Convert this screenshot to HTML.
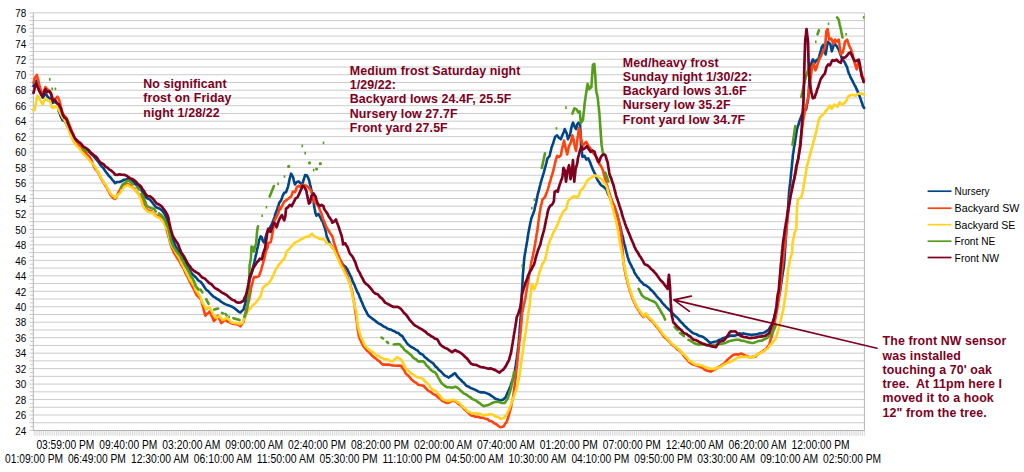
<!DOCTYPE html>
<html><head><meta charset="utf-8"><style>
html,body{margin:0;padding:0;background:#fff;}
body{width:1024px;height:472px;overflow:hidden;position:relative;}
svg{position:absolute;left:0;top:0;}
text{font-family:"Liberation Sans",Arial,sans-serif;}
.ax{font-size:12px;fill:#000;}
.ay{font-size:11.6px;fill:#000;}
.lg{font-size:11px;fill:#000;}
.an{font-size:12.4px;font-weight:bold;fill:#7e0021;letter-spacing:0.1px;}
</style></head><body>
<svg width="1024" height="472" viewBox="0 0 1024 472">

<path d="M29.2,430.48H864.4 M29.2,422.75H864.4 M29.2,415.02H864.4 M29.2,407.28H864.4 M29.2,399.55H864.4 M29.2,391.82H864.4 M29.2,384.08H864.4 M29.2,376.35H864.4 M29.2,368.62H864.4 M29.2,360.88H864.4 M29.2,353.15H864.4 M29.2,345.42H864.4 M29.2,337.69H864.4 M29.2,329.95H864.4 M29.2,322.22H864.4 M29.2,314.49H864.4 M29.2,306.75H864.4 M29.2,299.02H864.4 M29.2,291.29H864.4 M29.2,283.55H864.4 M29.2,275.82H864.4 M29.2,268.09H864.4 M29.2,260.36H864.4 M29.2,252.62H864.4 M29.2,244.89H864.4 M29.2,237.16H864.4 M29.2,229.42H864.4 M29.2,221.69H864.4 M29.2,213.96H864.4 M29.2,206.22H864.4 M29.2,198.49H864.4 M29.2,190.76H864.4 M29.2,183.03H864.4 M29.2,175.29H864.4 M29.2,167.56H864.4 M29.2,159.83H864.4 M29.2,152.09H864.4 M29.2,144.36H864.4 M29.2,136.63H864.4 M29.2,128.89H864.4 M29.2,121.16H864.4 M29.2,113.43H864.4 M29.2,105.70H864.4 M29.2,97.96H864.4 M29.2,90.23H864.4 M29.2,82.50H864.4 M29.2,74.76H864.4 M29.2,67.03H864.4 M29.2,59.30H864.4 M29.2,51.56H864.4 M29.2,43.83H864.4 M29.2,36.10H864.4 M29.2,28.37H864.4 M29.2,20.63H864.4 M29.2,12.90H864.4" stroke="#cbcbcb" stroke-width="1" fill="none"/>
<path d="M30.2,426.62H33.3 M30.2,418.88H33.3 M30.2,411.15H33.3 M30.2,403.42H33.3 M30.2,395.68H33.3 M30.2,387.95H33.3 M30.2,380.22H33.3 M30.2,372.48H33.3 M30.2,364.75H33.3 M30.2,357.02H33.3 M30.2,349.29H33.3 M30.2,341.55H33.3 M30.2,333.82H33.3 M30.2,326.09H33.3 M30.2,318.35H33.3 M30.2,310.62H33.3 M30.2,302.89H33.3 M30.2,295.15H33.3 M30.2,287.42H33.3 M30.2,279.69H33.3 M30.2,271.96H33.3 M30.2,264.22H33.3 M30.2,256.49H33.3 M30.2,248.76H33.3 M30.2,241.02H33.3 M30.2,233.29H33.3 M30.2,225.56H33.3 M30.2,217.82H33.3 M30.2,210.09H33.3 M30.2,202.36H33.3 M30.2,194.63H33.3 M30.2,186.89H33.3 M30.2,179.16H33.3 M30.2,171.43H33.3 M30.2,163.69H33.3 M30.2,155.96H33.3 M30.2,148.23H33.3 M30.2,140.49H33.3 M30.2,132.76H33.3 M30.2,125.03H33.3 M30.2,117.30H33.3 M30.2,109.56H33.3 M30.2,101.83H33.3 M30.2,94.10H33.3 M30.2,86.36H33.3 M30.2,78.63H33.3 M30.2,70.90H33.3 M30.2,63.16H33.3 M30.2,55.43H33.3 M30.2,47.70H33.3 M30.2,39.97H33.3 M30.2,32.23H33.3 M30.2,24.50H33.3 M30.2,16.77H33.3" stroke="#cbcbcb" stroke-width="1" fill="none"/>
<path d="M34.20,430.48V435.7 M36.05,430.48V435.7 M37.91,430.48V435.7 M39.76,430.48V435.7 M41.61,430.48V435.7 M43.47,430.48V435.7 M45.32,430.48V435.7 M47.17,430.48V435.7 M49.02,430.48V435.7 M50.88,430.48V435.7 M52.73,430.48V435.7 M54.58,430.48V435.7 M56.44,430.48V435.7 M58.29,430.48V435.7 M60.14,430.48V435.7 M62.00,430.48V435.7 M63.85,430.48V435.7 M65.70,430.48V435.7 M67.55,430.48V435.7 M69.41,430.48V435.7 M71.26,430.48V435.7 M73.11,430.48V435.7 M74.97,430.48V435.7 M76.82,430.48V435.7 M78.67,430.48V435.7 M80.52,430.48V435.7 M82.38,430.48V435.7 M84.23,430.48V435.7 M86.08,430.48V435.7 M87.94,430.48V435.7 M89.79,430.48V435.7 M91.64,430.48V435.7 M93.50,430.48V435.7 M95.35,430.48V435.7 M97.20,430.48V435.7 M99.05,430.48V435.7 M100.91,430.48V435.7 M102.76,430.48V435.7 M104.61,430.48V435.7 M106.47,430.48V435.7 M108.32,430.48V435.7 M110.17,430.48V435.7 M112.03,430.48V435.7 M113.88,430.48V435.7 M115.73,430.48V435.7 M117.58,430.48V435.7 M119.44,430.48V435.7 M121.29,430.48V435.7 M123.14,430.48V435.7 M125.00,430.48V435.7 M126.85,430.48V435.7 M128.70,430.48V435.7 M130.56,430.48V435.7 M132.41,430.48V435.7 M134.26,430.48V435.7 M136.11,430.48V435.7 M137.97,430.48V435.7 M139.82,430.48V435.7 M141.67,430.48V435.7 M143.53,430.48V435.7 M145.38,430.48V435.7 M147.23,430.48V435.7 M149.09,430.48V435.7 M150.94,430.48V435.7 M152.79,430.48V435.7 M154.64,430.48V435.7 M156.50,430.48V435.7 M158.35,430.48V435.7 M160.20,430.48V435.7 M162.06,430.48V435.7 M163.91,430.48V435.7 M165.76,430.48V435.7 M167.62,430.48V435.7 M169.47,430.48V435.7 M171.32,430.48V435.7 M173.18,430.48V435.7 M175.03,430.48V435.7 M176.88,430.48V435.7 M178.73,430.48V435.7 M180.59,430.48V435.7 M182.44,430.48V435.7 M184.29,430.48V435.7 M186.15,430.48V435.7 M188.00,430.48V435.7 M189.85,430.48V435.7 M191.71,430.48V435.7 M193.56,430.48V435.7 M195.41,430.48V435.7 M197.26,430.48V435.7 M199.12,430.48V435.7 M200.97,430.48V435.7 M202.82,430.48V435.7 M204.68,430.48V435.7 M206.53,430.48V435.7 M208.38,430.48V435.7 M210.24,430.48V435.7 M212.09,430.48V435.7 M213.94,430.48V435.7 M215.79,430.48V435.7 M217.65,430.48V435.7 M219.50,430.48V435.7 M221.35,430.48V435.7 M223.21,430.48V435.7 M225.06,430.48V435.7 M226.91,430.48V435.7 M228.77,430.48V435.7 M230.62,430.48V435.7 M232.47,430.48V435.7 M234.32,430.48V435.7 M236.18,430.48V435.7 M238.03,430.48V435.7 M239.88,430.48V435.7 M241.74,430.48V435.7 M243.59,430.48V435.7 M245.44,430.48V435.7 M247.30,430.48V435.7 M249.15,430.48V435.7 M251.00,430.48V435.7 M252.85,430.48V435.7 M254.71,430.48V435.7 M256.56,430.48V435.7 M258.41,430.48V435.7 M260.27,430.48V435.7 M262.12,430.48V435.7 M263.97,430.48V435.7 M265.83,430.48V435.7 M267.68,430.48V435.7 M269.53,430.48V435.7 M271.38,430.48V435.7 M273.24,430.48V435.7 M275.09,430.48V435.7 M276.94,430.48V435.7 M278.80,430.48V435.7 M280.65,430.48V435.7 M282.50,430.48V435.7 M284.36,430.48V435.7 M286.21,430.48V435.7 M288.06,430.48V435.7 M289.91,430.48V435.7 M291.77,430.48V435.7 M293.62,430.48V435.7 M295.47,430.48V435.7 M297.33,430.48V435.7 M299.18,430.48V435.7 M301.03,430.48V435.7 M302.89,430.48V435.7 M304.74,430.48V435.7 M306.59,430.48V435.7 M308.44,430.48V435.7 M310.30,430.48V435.7 M312.15,430.48V435.7 M314.00,430.48V435.7 M315.86,430.48V435.7 M317.71,430.48V435.7 M319.56,430.48V435.7 M321.42,430.48V435.7 M323.27,430.48V435.7 M325.12,430.48V435.7 M326.97,430.48V435.7 M328.83,430.48V435.7 M330.68,430.48V435.7 M332.53,430.48V435.7 M334.39,430.48V435.7 M336.24,430.48V435.7 M338.09,430.48V435.7 M339.95,430.48V435.7 M341.80,430.48V435.7 M343.65,430.48V435.7 M345.50,430.48V435.7 M347.36,430.48V435.7 M349.21,430.48V435.7 M351.06,430.48V435.7 M352.92,430.48V435.7 M354.77,430.48V435.7 M356.62,430.48V435.7 M358.48,430.48V435.7 M360.33,430.48V435.7 M362.18,430.48V435.7 M364.03,430.48V435.7 M365.89,430.48V435.7 M367.74,430.48V435.7 M369.59,430.48V435.7 M371.45,430.48V435.7 M373.30,430.48V435.7 M375.15,430.48V435.7 M377.01,430.48V435.7 M378.86,430.48V435.7 M380.71,430.48V435.7 M382.56,430.48V435.7 M384.42,430.48V435.7 M386.27,430.48V435.7 M388.12,430.48V435.7 M389.98,430.48V435.7 M391.83,430.48V435.7 M393.68,430.48V435.7 M395.54,430.48V435.7 M397.39,430.48V435.7 M399.24,430.48V435.7 M401.09,430.48V435.7 M402.95,430.48V435.7 M404.80,430.48V435.7 M406.65,430.48V435.7 M408.51,430.48V435.7 M410.36,430.48V435.7 M412.21,430.48V435.7 M414.07,430.48V435.7 M415.92,430.48V435.7 M417.77,430.48V435.7 M419.62,430.48V435.7 M421.48,430.48V435.7 M423.33,430.48V435.7 M425.18,430.48V435.7 M427.04,430.48V435.7 M428.89,430.48V435.7 M430.74,430.48V435.7 M432.60,430.48V435.7 M434.45,430.48V435.7 M436.30,430.48V435.7 M438.15,430.48V435.7 M440.01,430.48V435.7 M441.86,430.48V435.7 M443.71,430.48V435.7 M445.57,430.48V435.7 M447.42,430.48V435.7 M449.27,430.48V435.7 M451.13,430.48V435.7 M452.98,430.48V435.7 M454.83,430.48V435.7 M456.68,430.48V435.7 M458.54,430.48V435.7 M460.39,430.48V435.7 M462.24,430.48V435.7 M464.10,430.48V435.7 M465.95,430.48V435.7 M467.80,430.48V435.7 M469.66,430.48V435.7 M471.51,430.48V435.7 M473.36,430.48V435.7 M475.21,430.48V435.7 M477.07,430.48V435.7 M478.92,430.48V435.7 M480.77,430.48V435.7 M482.63,430.48V435.7 M484.48,430.48V435.7 M486.33,430.48V435.7 M488.19,430.48V435.7 M490.04,430.48V435.7 M491.89,430.48V435.7 M493.74,430.48V435.7 M495.60,430.48V435.7 M497.45,430.48V435.7 M499.30,430.48V435.7 M501.16,430.48V435.7 M503.01,430.48V435.7 M504.86,430.48V435.7 M506.72,430.48V435.7 M508.57,430.48V435.7 M510.42,430.48V435.7 M512.27,430.48V435.7 M514.13,430.48V435.7 M515.98,430.48V435.7 M517.83,430.48V435.7 M519.69,430.48V435.7 M521.54,430.48V435.7 M523.39,430.48V435.7 M525.25,430.48V435.7 M527.10,430.48V435.7 M528.95,430.48V435.7 M530.80,430.48V435.7 M532.66,430.48V435.7 M534.51,430.48V435.7 M536.36,430.48V435.7 M538.22,430.48V435.7 M540.07,430.48V435.7 M541.92,430.48V435.7 M543.78,430.48V435.7 M545.63,430.48V435.7 M547.48,430.48V435.7 M549.33,430.48V435.7 M551.19,430.48V435.7 M553.04,430.48V435.7 M554.89,430.48V435.7 M556.75,430.48V435.7 M558.60,430.48V435.7 M560.45,430.48V435.7 M562.31,430.48V435.7 M564.16,430.48V435.7 M566.01,430.48V435.7 M567.86,430.48V435.7 M569.72,430.48V435.7 M571.57,430.48V435.7 M573.42,430.48V435.7 M575.28,430.48V435.7 M577.13,430.48V435.7 M578.98,430.48V435.7 M580.83,430.48V435.7 M582.69,430.48V435.7 M584.54,430.48V435.7 M586.39,430.48V435.7 M588.25,430.48V435.7 M590.10,430.48V435.7 M591.95,430.48V435.7 M593.81,430.48V435.7 M595.66,430.48V435.7 M597.51,430.48V435.7 M599.36,430.48V435.7 M601.22,430.48V435.7 M603.07,430.48V435.7 M604.92,430.48V435.7 M606.78,430.48V435.7 M608.63,430.48V435.7 M610.48,430.48V435.7 M612.34,430.48V435.7 M614.19,430.48V435.7 M616.04,430.48V435.7 M617.89,430.48V435.7 M619.75,430.48V435.7 M621.60,430.48V435.7 M623.45,430.48V435.7 M625.31,430.48V435.7 M627.16,430.48V435.7 M629.01,430.48V435.7 M630.87,430.48V435.7 M632.72,430.48V435.7 M634.57,430.48V435.7 M636.42,430.48V435.7 M638.28,430.48V435.7 M640.13,430.48V435.7 M641.98,430.48V435.7 M643.84,430.48V435.7 M645.69,430.48V435.7 M647.54,430.48V435.7 M649.40,430.48V435.7 M651.25,430.48V435.7 M653.10,430.48V435.7 M654.95,430.48V435.7 M656.81,430.48V435.7 M658.66,430.48V435.7 M660.51,430.48V435.7 M662.37,430.48V435.7 M664.22,430.48V435.7 M666.07,430.48V435.7 M667.93,430.48V435.7 M669.78,430.48V435.7 M671.63,430.48V435.7 M673.48,430.48V435.7 M675.34,430.48V435.7 M677.19,430.48V435.7 M679.04,430.48V435.7 M680.90,430.48V435.7 M682.75,430.48V435.7 M684.60,430.48V435.7 M686.46,430.48V435.7 M688.31,430.48V435.7 M690.16,430.48V435.7 M692.01,430.48V435.7 M693.87,430.48V435.7 M695.72,430.48V435.7 M697.57,430.48V435.7 M699.43,430.48V435.7 M701.28,430.48V435.7 M703.13,430.48V435.7 M704.99,430.48V435.7 M706.84,430.48V435.7 M708.69,430.48V435.7 M710.54,430.48V435.7 M712.40,430.48V435.7 M714.25,430.48V435.7 M716.10,430.48V435.7 M717.96,430.48V435.7 M719.81,430.48V435.7 M721.66,430.48V435.7 M723.52,430.48V435.7 M725.37,430.48V435.7 M727.22,430.48V435.7 M729.07,430.48V435.7 M730.93,430.48V435.7 M732.78,430.48V435.7 M734.63,430.48V435.7 M736.49,430.48V435.7 M738.34,430.48V435.7 M740.19,430.48V435.7 M742.05,430.48V435.7 M743.90,430.48V435.7 M745.75,430.48V435.7 M747.60,430.48V435.7 M749.46,430.48V435.7 M751.31,430.48V435.7 M753.16,430.48V435.7 M755.02,430.48V435.7 M756.87,430.48V435.7 M758.72,430.48V435.7 M760.58,430.48V435.7 M762.43,430.48V435.7 M764.28,430.48V435.7 M766.13,430.48V435.7 M767.99,430.48V435.7 M769.84,430.48V435.7 M771.69,430.48V435.7 M773.55,430.48V435.7 M775.40,430.48V435.7 M777.25,430.48V435.7 M779.11,430.48V435.7 M780.96,430.48V435.7 M782.81,430.48V435.7 M784.66,430.48V435.7 M786.52,430.48V435.7 M788.37,430.48V435.7 M790.22,430.48V435.7 M792.08,430.48V435.7 M793.93,430.48V435.7 M795.78,430.48V435.7 M797.64,430.48V435.7 M799.49,430.48V435.7 M801.34,430.48V435.7 M803.19,430.48V435.7 M805.05,430.48V435.7 M806.90,430.48V435.7 M808.75,430.48V435.7 M810.61,430.48V435.7 M812.46,430.48V435.7 M814.31,430.48V435.7 M816.17,430.48V435.7 M818.02,430.48V435.7 M819.87,430.48V435.7 M821.72,430.48V435.7 M823.58,430.48V435.7 M825.43,430.48V435.7 M827.28,430.48V435.7 M829.14,430.48V435.7 M830.99,430.48V435.7 M832.84,430.48V435.7 M834.70,430.48V435.7 M836.55,430.48V435.7 M838.40,430.48V435.7 M840.25,430.48V435.7 M842.11,430.48V435.7 M843.96,430.48V435.7 M845.81,430.48V435.7 M847.67,430.48V435.7 M849.52,430.48V435.7 M851.37,430.48V435.7 M853.23,430.48V435.7 M855.08,430.48V435.7 M856.93,430.48V435.7 M858.78,430.48V435.7 M860.64,430.48V435.7 M862.49,430.48V435.7 M864.34,430.48V435.7" stroke="#d2d2d2" stroke-width="0.9" fill="none"/>
<path d="M33.3,12.9V430.48199999999997H864.4V12.9" stroke="#b3b3b3" stroke-width="1" fill="none"/>
<text class="ay" x="26.3" y="434.7" text-anchor="end" textLength="11.0" lengthAdjust="spacingAndGlyphs">24</text>
<text class="ay" x="26.3" y="419.2" text-anchor="end" textLength="11.0" lengthAdjust="spacingAndGlyphs">26</text>
<text class="ay" x="26.3" y="403.7" text-anchor="end" textLength="11.0" lengthAdjust="spacingAndGlyphs">28</text>
<text class="ay" x="26.3" y="388.3" text-anchor="end" textLength="11.0" lengthAdjust="spacingAndGlyphs">30</text>
<text class="ay" x="26.3" y="372.8" text-anchor="end" textLength="11.0" lengthAdjust="spacingAndGlyphs">32</text>
<text class="ay" x="26.3" y="357.4" text-anchor="end" textLength="11.0" lengthAdjust="spacingAndGlyphs">34</text>
<text class="ay" x="26.3" y="341.9" text-anchor="end" textLength="11.0" lengthAdjust="spacingAndGlyphs">36</text>
<text class="ay" x="26.3" y="326.4" text-anchor="end" textLength="11.0" lengthAdjust="spacingAndGlyphs">38</text>
<text class="ay" x="26.3" y="311.0" text-anchor="end" textLength="11.0" lengthAdjust="spacingAndGlyphs">40</text>
<text class="ay" x="26.3" y="295.5" text-anchor="end" textLength="11.0" lengthAdjust="spacingAndGlyphs">42</text>
<text class="ay" x="26.3" y="280.0" text-anchor="end" textLength="11.0" lengthAdjust="spacingAndGlyphs">44</text>
<text class="ay" x="26.3" y="264.6" text-anchor="end" textLength="11.0" lengthAdjust="spacingAndGlyphs">46</text>
<text class="ay" x="26.3" y="249.1" text-anchor="end" textLength="11.0" lengthAdjust="spacingAndGlyphs">48</text>
<text class="ay" x="26.3" y="233.6" text-anchor="end" textLength="11.0" lengthAdjust="spacingAndGlyphs">50</text>
<text class="ay" x="26.3" y="218.2" text-anchor="end" textLength="11.0" lengthAdjust="spacingAndGlyphs">52</text>
<text class="ay" x="26.3" y="202.7" text-anchor="end" textLength="11.0" lengthAdjust="spacingAndGlyphs">54</text>
<text class="ay" x="26.3" y="187.2" text-anchor="end" textLength="11.0" lengthAdjust="spacingAndGlyphs">56</text>
<text class="ay" x="26.3" y="171.8" text-anchor="end" textLength="11.0" lengthAdjust="spacingAndGlyphs">58</text>
<text class="ay" x="26.3" y="156.3" text-anchor="end" textLength="11.0" lengthAdjust="spacingAndGlyphs">60</text>
<text class="ay" x="26.3" y="140.8" text-anchor="end" textLength="11.0" lengthAdjust="spacingAndGlyphs">62</text>
<text class="ay" x="26.3" y="125.4" text-anchor="end" textLength="11.0" lengthAdjust="spacingAndGlyphs">64</text>
<text class="ay" x="26.3" y="109.9" text-anchor="end" textLength="11.0" lengthAdjust="spacingAndGlyphs">66</text>
<text class="ay" x="26.3" y="94.4" text-anchor="end" textLength="11.0" lengthAdjust="spacingAndGlyphs">68</text>
<text class="ay" x="26.3" y="79.0" text-anchor="end" textLength="11.0" lengthAdjust="spacingAndGlyphs">70</text>
<text class="ay" x="26.3" y="63.5" text-anchor="end" textLength="11.0" lengthAdjust="spacingAndGlyphs">72</text>
<text class="ay" x="26.3" y="48.0" text-anchor="end" textLength="11.0" lengthAdjust="spacingAndGlyphs">74</text>
<text class="ay" x="26.3" y="32.6" text-anchor="end" textLength="11.0" lengthAdjust="spacingAndGlyphs">76</text>
<text class="ay" x="26.3" y="17.1" text-anchor="end" textLength="11.0" lengthAdjust="spacingAndGlyphs">78</text>
<text class="ax" x="5.0" y="462.9" textLength="58" lengthAdjust="spacingAndGlyphs">01:09:00 PM</text>
<text class="ax" x="67.9" y="462.9" textLength="58" lengthAdjust="spacingAndGlyphs">06:49:00 PM</text>
<text class="ax" x="130.9" y="462.9" textLength="58" lengthAdjust="spacingAndGlyphs">12:30:00 AM</text>
<text class="ax" x="193.8" y="462.9" textLength="58" lengthAdjust="spacingAndGlyphs">06:10:00 AM</text>
<text class="ax" x="256.7" y="462.9" textLength="58" lengthAdjust="spacingAndGlyphs">11:50:00 AM</text>
<text class="ax" x="319.6" y="462.9" textLength="58" lengthAdjust="spacingAndGlyphs">05:30:00 PM</text>
<text class="ax" x="382.6" y="462.9" textLength="58" lengthAdjust="spacingAndGlyphs">11:10:00 PM</text>
<text class="ax" x="445.5" y="462.9" textLength="58" lengthAdjust="spacingAndGlyphs">04:50:00 AM</text>
<text class="ax" x="508.4" y="462.9" textLength="58" lengthAdjust="spacingAndGlyphs">10:30:00 AM</text>
<text class="ax" x="571.4" y="462.9" textLength="58" lengthAdjust="spacingAndGlyphs">04:10:00 PM</text>
<text class="ax" x="634.3" y="462.9" textLength="58" lengthAdjust="spacingAndGlyphs">09:50:00 PM</text>
<text class="ax" x="697.2" y="462.9" textLength="58" lengthAdjust="spacingAndGlyphs">03:30:00 AM</text>
<text class="ax" x="760.2" y="462.9" textLength="58" lengthAdjust="spacingAndGlyphs">09:10:00 AM</text>
<text class="ax" x="823.1" y="462.9" textLength="58" lengthAdjust="spacingAndGlyphs">02:50:00 PM</text>
<text class="ax" x="36.4" y="449.3" textLength="58" lengthAdjust="spacingAndGlyphs">03:59:00 PM</text>
<text class="ax" x="99.3" y="449.3" textLength="58" lengthAdjust="spacingAndGlyphs">09:40:00 PM</text>
<text class="ax" x="162.3" y="449.3" textLength="58" lengthAdjust="spacingAndGlyphs">03:20:00 AM</text>
<text class="ax" x="225.2" y="449.3" textLength="58" lengthAdjust="spacingAndGlyphs">09:00:00 AM</text>
<text class="ax" x="288.1" y="449.3" textLength="58" lengthAdjust="spacingAndGlyphs">02:40:00 PM</text>
<text class="ax" x="351.0" y="449.3" textLength="58" lengthAdjust="spacingAndGlyphs">08:20:00 PM</text>
<text class="ax" x="414.0" y="449.3" textLength="58" lengthAdjust="spacingAndGlyphs">02:00:00 AM</text>
<text class="ax" x="476.9" y="449.3" textLength="58" lengthAdjust="spacingAndGlyphs">07:40:00 AM</text>
<text class="ax" x="539.8" y="449.3" textLength="58" lengthAdjust="spacingAndGlyphs">01:20:00 PM</text>
<text class="ax" x="602.8" y="449.3" textLength="58" lengthAdjust="spacingAndGlyphs">07:00:00 PM</text>
<text class="ax" x="665.7" y="449.3" textLength="58" lengthAdjust="spacingAndGlyphs">12:40:00 AM</text>
<text class="ax" x="728.6" y="449.3" textLength="58" lengthAdjust="spacingAndGlyphs">06:20:00 AM</text>
<text class="ax" x="791.6" y="449.3" textLength="58" lengthAdjust="spacingAndGlyphs">12:00:00 PM</text>
<path d="M33.5,86.0 L34.5,83.8 L35.4,82.8 L36.4,80.7 L37.2,83.6 L38.0,86.0 L38.6,87.6 L39.3,89.7 L40.0,91.5 L40.6,93.4 L41.7,95.7 L42.7,97.7 L44.0,95.9 L45.4,93.4 L46.5,94.6 L47.5,96.6 L50.1,98.7 L51.2,100.3 L52.2,103.0 L54.9,101.9 L57.5,103.5 L57.8,105.8 L58.1,107.4 L58.5,109.7 L58.8,111.4 L59.8,113.4 L60.7,116.4 L61.7,118.3 L62.6,120.3 L64.5,120.9 L66.4,124.1 L67.3,126.2 L68.3,127.9 L69.3,129.8 L70.3,132.3 L71.5,135.0 L72.8,136.8 L74.0,138.8 L75.3,140.0 L76.9,140.7 L78.5,142.5 L80.1,143.6 L81.7,145.7 L83.3,147.0 L84.9,148.2 L86.5,150.0 L88.0,150.8 L89.6,152.2 L91.2,153.9 L92.8,155.2 L94.4,157.1 L96.0,158.9 L97.6,160.9 L98.8,162.3 L100.1,164.7 L102.4,167.2 L103.7,168.6 L104.9,170.5 L106.2,172.3 L107.4,173.7 L108.7,175.7 L110.0,176.9 L111.3,178.4 L112.5,180.1 L113.8,181.4 L115.1,183.1 L117.2,182.0 L119.3,182.0 L121.4,181.3 L123.6,179.9 L125.7,179.5 L127.8,178.9 L129.6,180.1 L131.3,180.6 L133.1,182.0 L134.8,183.8 L136.6,185.0 L138.3,185.9 L139.7,187.1 L141.0,189.1 L142.5,192.2 L143.6,193.9 L144.7,196.0 L146.8,198.1 L150.0,199.6 L151.9,202.0 L153.8,204.5 L155.7,206.8 L157.6,208.0 L159.5,208.4 L161.4,209.9 L163.4,212.2 L164.9,214.7 L166.2,217.3 L167.2,220.4 L168.1,223.6 L168.8,226.5 L169.5,229.0 L169.9,231.2 L170.4,233.5 L170.8,235.0 L171.6,237.0 L172.4,239.2 L174.0,242.4 L174.8,244.6 L175.6,246.1 L177.2,248.8 L178.8,252.0 L180.4,254.6 L181.4,256.4 L182.5,257.8 L183.6,259.4 L184.6,261.5 L185.6,263.4 L186.7,265.2 L187.8,267.5 L188.8,268.9 L190.2,271.4 L191.5,273.1 L194.1,275.8 L196.8,278.4 L198.4,280.6 L200.5,281.6 L202.6,284.3 L203.9,286.2 L205.2,288.2 L206.5,290.0 L208.3,291.2 L210.0,293.1 L211.8,295.0 L213.6,296.7 L215.3,297.6 L217.1,299.0 L218.9,299.8 L220.6,301.4 L222.4,302.5 L224.2,303.6 L225.9,304.4 L227.7,305.1 L229.5,305.7 L231.2,306.4 L233.0,307.2 L235.1,308.8 L237.2,310.4 L238.8,311.8 L240.4,312.5 L242.0,310.9 L243.6,309.3 L244.2,307.1 L244.8,305.0 L245.5,302.4 L246.1,300.3 L246.7,298.7 L247.0,296.8 L247.3,295.0 L247.6,292.5 L247.9,290.1 L248.2,287.8 L248.5,286.0 L248.9,283.9 L249.2,282.3 L249.6,279.7 L250.2,277.9 L250.9,275.5 L251.5,273.3 L252.0,271.8 L252.4,269.2 L252.9,267.6 L253.4,265.7 L253.9,264.3 L254.4,261.9 L254.8,259.9 L255.3,258.0 L255.7,255.7 L256.2,254.0 L256.6,252.4 L257.1,249.4 L257.5,247.9 L257.9,246.3 L258.3,244.4 L258.7,242.5 L259.1,240.2 L259.9,238.6 L260.6,236.4 L261.7,237.2 L262.3,239.4 L262.9,241.0 L264.0,242.5 L264.6,240.6 L265.2,238.7 L265.9,236.1 L266.7,233.4 L268.2,230.3 L269.7,228.0 L271.3,225.0 L272.4,222.7 L273.6,219.6 L274.7,216.6 L275.5,213.5 L276.4,211.3 L277.3,209.3 L277.9,206.7 L278.6,205.4 L279.2,202.9 L281.1,200.4 L281.8,198.5 L282.4,196.5 L283.4,194.3 L284.3,192.7 L286.0,192.2 L286.9,189.7 L287.9,187.1 L288.4,184.9 L288.9,182.5 L289.3,180.3 L289.8,178.2 L290.5,176.0 L291.1,173.7 L293.0,176.9 L293.5,178.9 L293.9,180.8 L294.4,182.6 L294.9,184.5 L296.8,182.0 L298.7,181.4 L300.6,183.3 L302.5,184.5 L303.1,181.5 L303.8,179.5 L304.5,177.0 L305.1,175.0 L307.0,175.6 L308.3,178.2 L308.9,179.7 L309.5,182.0 L310.1,184.6 L310.8,187.1 L311.2,189.6 L311.7,191.6 L312.1,193.4 L312.5,195.9 L313.0,198.0 L313.4,199.8 L313.7,201.7 L313.9,204.4 L314.2,206.2 L314.6,208.5 L314.9,209.9 L315.3,212.5 L316.5,215.7 L318.4,213.8 L319.7,216.3 L320.6,217.7 L321.6,220.2 L322.6,221.6 L323.5,224.0 L324.1,226.2 L324.8,227.8 L325.3,229.8 L325.9,231.9 L326.4,234.8 L326.9,236.9 L327.7,238.5 L328.4,240.0 L329.2,241.9 L330.0,244.0 L331.6,246.3 L333.2,248.6 L334.8,250.3 L336.4,252.8 L337.4,254.7 L338.5,257.3 L339.5,259.2 L340.6,260.9 L341.6,262.5 L342.7,264.5 L344.1,265.9 L345.5,266.8 L346.9,268.7 L348.0,270.7 L349.0,272.9 L350.1,275.1 L350.9,276.6 L351.7,278.4 L352.5,281.1 L353.3,282.5 L354.1,284.4 L354.9,285.9 L355.7,288.2 L356.5,289.9 L357.3,292.1 L358.1,293.1 L358.9,294.9 L359.7,297.3 L360.5,298.7 L361.2,301.1 L362.0,302.3 L362.8,304.5 L363.7,306.6 L364.6,308.4 L365.4,310.1 L366.3,311.6 L367.2,313.8 L368.6,315.7 L370.1,316.9 L371.5,318.0 L373.3,319.4 L375.0,320.5 L376.8,322.2 L378.6,323.4 L380.3,324.2 L382.1,325.4 L383.9,326.6 L385.6,327.3 L387.4,328.6 L389.2,329.4 L390.9,329.5 L392.7,330.7 L394.5,331.2 L396.2,332.6 L398.0,332.8 L400.1,334.8 L402.2,336.0 L403.2,337.4 L404.3,339.6 L405.3,340.6 L406.4,342.4 L407.8,344.3 L409.3,345.5 L410.7,346.6 L412.5,347.6 L414.2,348.5 L416.0,349.8 L417.8,350.7 L419.5,353.0 L421.3,354.0 L423.1,354.9 L424.8,357.2 L426.6,358.3 L428.4,360.2 L430.1,361.2 L431.9,362.5 L433.7,363.9 L435.4,366.4 L437.2,367.8 L438.6,369.7 L440.0,370.8 L441.4,372.0 L442.9,373.7 L444.5,375.4 L446.6,376.4 L448.8,377.6 L450.4,376.3 L451.9,375.4 L453.5,374.0 L455.1,373.3 L456.7,375.6 L458.3,377.6 L459.7,378.9 L461.1,380.1 L462.5,381.8 L463.9,382.8 L465.4,384.8 L466.8,386.0 L468.9,386.8 L471.0,388.1 L472.8,388.8 L474.5,389.4 L476.3,390.3 L478.1,391.4 L479.8,392.1 L481.6,392.4 L484.2,392.4 L486.9,393.4 L489.0,394.2 L491.1,395.6 L493.2,397.0 L495.4,398.7 L498.6,399.8 L500.7,400.3 L502.8,399.8 L504.4,398.5 L506.0,396.6 L506.8,394.6 L507.6,392.6 L508.4,391.2 L509.2,389.2 L510.0,387.4 L510.8,385.4 L511.5,382.7 L512.3,380.7 L513.0,379.0 L513.7,376.7 L514.4,374.4 L514.7,372.3 L515.0,370.7 L515.3,367.7 L515.7,366.1 L516.0,363.3 L516.3,361.3 L516.6,359.5 L516.9,357.8 L517.1,355.0 L517.4,353.4 L517.7,351.2 L517.9,349.3 L518.2,346.7 L518.4,344.5 L518.7,342.6 L518.9,340.3 L519.0,338.9 L519.2,336.6 L519.4,334.9 L519.5,332.8 L519.7,329.9 L519.8,328.3 L520.0,325.7 L520.2,323.6 L520.3,321.6 L520.5,320.0 L520.6,318.5 L520.7,316.5 L520.8,314.6 L520.9,312.1 L521.0,310.5 L521.1,308.8 L521.2,306.4 L521.3,304.7 L521.4,302.4 L521.5,300.3 L521.6,298.6 L521.7,297.4 L521.8,295.0 L521.9,293.0 L522.0,291.3 L522.1,288.8 L522.2,286.5 L522.3,285.0 L522.5,283.0 L522.6,280.0 L522.7,278.7 L522.8,276.0 L522.9,274.4 L523.1,271.9 L523.3,270.6 L523.5,267.5 L523.6,265.6 L523.8,264.3 L524.0,261.6 L524.2,259.1 L524.4,257.4 L524.8,254.9 L525.1,252.9 L525.5,251.3 L525.8,248.5 L526.1,247.3 L526.5,244.7 L526.9,242.4 L527.2,241.0 L527.5,238.8 L527.9,236.0 L528.2,233.8 L528.6,232.0 L529.0,230.1 L529.3,227.8 L529.7,226.6 L530.1,224.0 L530.5,222.1 L530.8,221.3 L531.2,218.9 L532.0,216.6 L532.8,214.8 L533.6,212.5 L534.4,210.4 L534.8,208.1 L535.3,205.7 L535.7,204.5 L536.2,202.5 L536.6,200.3 L537.1,197.3 L537.5,195.6 L538.0,193.2 L538.6,191.5 L539.1,189.7 L539.6,187.1 L540.2,185.1 L540.7,182.8 L541.3,180.9 L542.0,178.3 L542.6,176.5 L543.3,174.2 L543.9,172.3 L544.5,169.9 L545.0,167.6 L545.6,165.9 L546.1,163.8 L546.5,162.6 L547.0,160.1 L547.5,158.3 L549.4,156.4 L549.9,154.5 L550.4,152.4 L550.9,150.7 L551.4,148.1 L552.3,145.4 L553.3,143.0 L553.9,140.7 L554.6,138.6 L555.2,136.7 L557.1,135.4 L559.0,138.0 L560.9,139.2 L561.8,136.5 L562.8,134.2 L563.8,132.0 L564.7,129.1 L565.7,131.4 L566.6,132.9 L567.0,134.8 L567.5,136.9 L567.9,139.2 L568.8,137.3 L569.8,135.4 L570.3,133.3 L570.8,131.1 L571.2,128.4 L571.7,126.5 L572.4,124.1 L573.0,122.7 L573.8,124.3 L574.5,126.5 L576.1,129.1 L576.8,126.1 L577.4,124.0 L578.7,122.7 L580.0,124.0 L580.1,126.0 L580.2,127.3 L580.3,129.2 L580.4,131.7 L580.5,133.3 L580.6,135.4 L580.7,137.8 L580.8,139.6 L580.9,142.1 L581.0,143.5 L581.1,146.0 L581.2,148.1 L581.5,150.6 L581.9,152.1 L582.2,155.3 L582.5,157.0 L584.4,155.8 L585.3,157.3 L586.3,159.6 L588.2,158.3 L589.2,160.5 L590.1,162.1 L591.0,165.2 L592.0,167.2 L592.9,169.6 L593.7,171.2 L594.5,172.9 L595.3,174.5 L596.1,176.8 L596.9,178.6 L597.9,180.8 L599.0,181.9 L600.0,183.9 L601.6,185.6 L603.2,186.5 L606.0,189.0 L606.8,190.5 L607.7,193.3 L608.5,194.8 L609.6,196.4 L610.6,198.9 L611.7,201.2 L612.7,203.7 L613.8,205.7 L614.8,207.5 L615.5,210.1 L616.2,212.1 L616.9,213.9 L617.5,216.3 L618.0,218.4 L618.5,219.9 L619.1,222.4 L619.6,224.4 L620.2,226.2 L620.7,228.9 L621.2,230.8 L621.7,233.1 L622.2,234.8 L622.8,236.7 L623.3,239.3 L623.8,241.9 L624.3,243.9 L624.9,245.7 L625.4,247.8 L625.9,250.0 L626.5,252.4 L627.0,254.1 L627.5,256.3 L628.3,258.7 L629.1,261.4 L630.1,263.3 L631.2,265.3 L632.2,267.7 L633.3,269.3 L634.3,272.1 L635.4,274.1 L636.5,275.6 L637.5,277.3 L638.6,278.3 L639.7,280.4 L641.1,281.7 L642.5,282.9 L643.9,284.7 L645.7,285.3 L647.4,286.5 L649.2,287.8 L650.6,289.6 L652.0,290.6 L653.4,292.1 L654.8,293.8 L656.3,295.8 L657.7,297.4 L659.0,298.7 L660.4,300.0 L661.7,302.2 L663.0,303.7 L664.8,305.5 L666.5,307.4 L668.3,309.0 L670.1,310.7 L671.8,312.7 L673.6,314.3 L675.4,316.3 L677.1,317.5 L678.9,319.6 L680.2,321.1 L681.5,322.5 L682.9,323.7 L684.2,325.5 L686.0,327.0 L687.7,328.8 L689.5,330.3 L691.3,331.9 L693.0,333.1 L694.8,333.8 L696.6,334.3 L698.3,335.4 L700.1,336.0 L701.9,336.4 L703.6,337.3 L705.4,338.7 L707.2,340.1 L708.9,342.0 L710.7,343.0 L712.9,342.1 L715.0,341.9 L717.1,341.1 L719.2,339.8 L721.0,339.5 L722.7,338.2 L724.5,337.7 L726.3,337.2 L728.0,336.7 L729.8,335.6 L732.5,335.5 L735.1,335.6 L737.2,334.7 L739.3,333.4 L741.5,333.7 L743.6,333.4 L746.2,334.1 L748.9,334.5 L751.5,334.9 L754.2,334.5 L756.8,334.4 L759.4,333.4 L762.0,333.4 L764.7,332.4 L766.9,330.9 L769.0,329.2 L770.1,327.1 L771.1,325.4 L772.2,323.9 L772.9,321.5 L773.6,319.7 L774.3,317.5 L774.8,315.7 L775.3,312.8 L775.9,311.4 L776.4,309.1 L776.8,307.1 L777.2,304.5 L777.7,302.5 L778.1,299.9 L778.5,298.0 L778.9,296.3 L779.3,293.5 L779.7,292.5 L780.1,290.3 L780.5,288.0 L780.8,286.0 L781.2,283.4 L781.5,282.0 L781.8,279.8 L782.2,276.8 L782.5,275.0 L782.8,273.1 L783.1,271.1 L783.5,268.7 L783.8,266.6 L784.1,264.2 L784.2,262.2 L784.4,260.7 L784.5,258.8 L784.6,256.1 L784.8,254.6 L784.9,252.2 L785.0,249.9 L785.2,248.1 L785.3,245.9 L785.4,244.8 L785.5,242.8 L785.7,239.9 L785.8,238.5 L785.9,236.3 L786.1,234.0 L786.2,232.4 L786.4,230.2 L786.5,228.3 L786.7,226.9 L786.8,224.1 L787.0,222.4 L787.1,220.8 L787.3,218.4 L787.4,217.1 L787.6,215.2 L787.7,213.5 L787.9,211.2 L788.0,208.9 L788.1,206.9 L788.3,205.2 L788.4,202.9 L788.5,201.2 L788.6,198.8 L788.8,197.2 L788.9,195.3 L789.0,193.0 L789.2,191.4 L789.4,189.6 L789.6,187.2 L789.8,185.2 L790.1,183.7 L790.3,181.6 L790.5,179.5 L790.7,177.3 L790.9,175.5 L791.1,173.3 L791.3,171.2 L791.5,170.1 L791.7,167.4 L791.9,166.1 L792.0,164.0 L792.2,162.5 L792.4,160.4 L792.6,158.7 L792.8,155.8 L793.0,154.3 L793.4,152.2 L793.7,150.1 L794.0,147.7 L794.4,145.8 L794.8,143.6 L795.1,141.6 L795.4,139.6 L795.7,137.1 L796.0,135.6 L796.3,133.6 L796.6,131.5 L796.9,129.7 L797.5,127.5 L798.1,125.8 L798.8,123.5 L799.4,121.2 L800.3,118.9 L801.1,116.8 L802.0,114.4 L803.2,112.6 L804.5,111.0 L806.2,109.3 L806.6,106.8 L807.0,104.5 L807.5,102.7 L807.9,100.8 L808.1,98.8 L808.3,97.0 L808.5,94.9 L808.7,92.4 L808.8,90.3 L808.9,88.7 L809.0,86.0 L809.2,84.3 L809.3,81.7 L809.4,79.9 L809.5,78.1 L809.6,75.4 L809.9,73.2 L810.2,71.1 L810.5,69.6 L810.7,67.6 L811.0,65.4 L811.3,63.6 L812.1,60.9 L813.0,59.3 L813.9,60.9 L814.7,62.7 L816.4,60.2 L818.6,58.7 L819.3,56.3 L819.9,53.9 L820.6,51.7 L821.2,49.7 L821.7,47.0 L823.4,44.9 L823.8,46.9 L824.3,49.0 L824.7,51.0 L825.2,52.8 L825.6,54.4 L826.0,52.3 L826.3,50.4 L826.7,48.2 L827.0,46.1 L827.4,44.0 L827.7,41.7 L830.2,43.9 L830.8,46.3 L831.3,49.0 L831.9,51.3 L832.4,49.3 L833.0,47.5 L833.5,45.2 L834.0,42.8 L835.3,44.8 L836.6,46.0 L837.9,48.4 L839.1,50.2 L839.8,52.7 L840.5,54.6 L841.2,56.4 L841.9,58.7 L843.5,60.5 L845.0,62.9 L846.0,65.2 L847.1,67.1 L847.7,69.6 L848.2,71.4 L848.8,73.5 L849.7,74.9 L850.5,77.4 L851.4,78.8 L852.5,80.9 L853.5,83.0 L854.6,85.1 L855.6,86.7 L856.7,89.4 L857.7,91.5 L858.5,93.9 L859.3,95.6 L860.1,97.6 L860.9,99.9 L861.6,102.2 L862.3,103.6 L863.0,106.3 L864.2,108.0" stroke="#004586" stroke-width="2.6" fill="none" stroke-linejoin="round" stroke-linecap="round"/>
<path d="M33.5,82.8 L34.1,80.9 L34.8,78.0 L36.9,74.9 L37.4,77.6 L38.0,78.9 L38.5,81.2 L39.0,83.9 L39.7,86.5 L40.4,88.7 L41.0,90.8 L41.7,92.9 L43.2,94.0 L43.9,91.5 L44.7,89.5 L45.4,87.1 L47.0,89.2 L49.6,90.8 L51.2,93.4 L51.9,95.7 L52.6,97.8 L53.3,99.8 L55.4,98.7 L57.5,96.6 L59.1,99.8 L59.6,101.5 L60.2,103.9 L60.7,106.1 L61.2,107.9 L61.8,110.1 L62.3,112.3 L62.8,113.6 L64.4,115.9 L66.0,117.3 L67.0,119.4 L68.0,121.5 L69.0,123.9 L70.0,126.5 L70.7,128.1 L71.3,129.7 L72.0,132.0 L73.0,134.0 L74.0,137.0 L75.2,139.2 L76.5,141.5 L77.8,143.1 L79.1,145.0 L80.4,147.0 L82.1,149.3 L83.8,150.7 L85.5,152.5 L86.8,154.1 L88.0,155.2 L89.3,156.5 L90.6,158.5 L91.4,160.3 L92.2,162.1 L93.1,164.5 L93.9,166.5 L95.2,169.0 L96.6,170.6 L97.9,172.0 L99.2,174.3 L100.3,176.8 L101.3,178.8 L102.4,180.6 L103.5,182.5 L104.5,184.4 L105.5,185.9 L106.6,187.3 L107.7,189.7 L108.8,191.2 L109.9,194.0 L111.0,195.5 L113.0,197.8 L115.1,199.0 L117.0,196.0 L118.1,193.2 L119.2,191.2 L120.3,189.4 L121.5,187.0 L123.5,184.8 L126.7,183.8 L129.3,184.8 L132.0,186.9 L134.6,189.1 L135.9,190.9 L137.2,192.2 L138.6,193.8 L139.9,195.4 L140.9,197.0 L142.0,198.6 L142.8,201.2 L143.6,203.9 L144.4,206.5 L145.2,208.1 L147.8,210.3 L150.0,210.9 L152.0,211.5 L153.2,213.0 L154.5,214.5 L156.3,215.5 L159.5,216.6 L162.1,218.5 L163.3,221.4 L164.6,223.6 L165.6,225.9 L166.5,228.5 L167.1,231.1 L167.6,233.3 L168.2,235.0 L168.7,237.1 L169.3,239.3 L169.8,241.4 L170.5,244.0 L171.2,245.8 L171.9,247.7 L172.6,249.5 L173.3,250.9 L174.0,253.0 L175.1,254.4 L176.1,256.2 L177.1,258.0 L178.2,259.4 L179.3,260.9 L180.4,263.1 L181.4,265.4 L182.5,266.8 L183.6,268.6 L184.6,271.0 L185.6,273.6 L186.7,275.3 L187.8,277.2 L188.8,279.5 L189.9,282.1 L191.0,283.7 L191.8,285.6 L192.7,287.1 L193.6,288.8 L194.4,290.5 L195.3,292.4 L196.1,294.0 L197.0,295.6 L198.4,296.8 L199.8,298.1 L201.2,299.8 L201.7,301.8 L202.2,304.3 L202.8,305.9 L203.3,307.3 L203.8,310.1 L204.3,312.0 L204.9,314.2 L205.4,315.7 L206.8,313.9 L208.3,313.1 L209.7,311.4 L210.5,312.8 L211.4,315.4 L212.2,316.9 L213.1,318.8 L213.9,321.0 L215.3,319.6 L216.7,317.0 L218.1,315.7 L218.9,317.6 L219.7,319.8 L220.5,321.0 L221.3,323.1 L223.4,321.2 L225.6,319.9 L227.3,321.4 L229.1,321.9 L230.8,323.1 L233.4,323.9 L236.1,324.2 L238.2,324.7 L240.4,326.3 L242.0,324.0 L243.6,322.0 L244.0,319.5 L244.4,318.0 L244.9,315.2 L245.3,314.0 L245.7,311.4 L246.3,308.8 L247.0,307.4 L247.6,304.5 L248.3,302.7 L248.9,300.8 L249.3,299.0 L249.6,296.2 L250.0,294.1 L250.4,292.6 L250.8,290.1 L251.1,287.6 L251.5,286.0 L252.2,284.3 L252.8,281.2 L253.4,278.8 L254.1,277.1 L256.6,277.1 L259.2,275.8 L259.8,273.7 L260.4,272.1 L261.1,270.4 L261.7,268.2 L262.3,265.5 L262.9,263.6 L263.6,261.0 L264.2,259.3 L264.7,257.0 L265.1,255.1 L265.6,252.9 L266.1,250.4 L267.5,247.9 L267.9,246.0 L268.2,243.3 L269.4,242.5 L270.5,242.5 L271.1,240.5 L271.6,238.0 L272.0,236.1 L272.4,233.4 L272.8,231.3 L273.2,228.8 L273.5,226.5 L273.9,224.2 L274.3,222.0 L274.7,220.4 L275.8,218.1 L277.0,215.8 L278.1,213.5 L278.9,211.0 L279.2,209.2 L279.6,207.0 L280.4,209.3 L281.4,207.1 L282.4,205.4 L283.4,203.1 L284.3,201.6 L286.0,200.4 L288.5,198.5 L291.1,196.6 L292.1,194.0 L293.0,191.5 L294.9,192.2 L295.9,190.1 L296.8,187.1 L298.7,185.8 L300.6,187.1 L302.5,184.5 L304.4,185.2 L306.4,185.8 L308.3,187.1 L310.2,189.6 L311.1,191.1 L312.1,193.4 L312.8,196.0 L313.4,198.5 L314.0,200.3 L314.6,202.4 L316.5,203.6 L318.4,206.2 L319.4,208.8 L320.4,211.3 L321.4,213.4 L322.3,216.3 L323.2,219.4 L324.2,221.4 L325.1,223.7 L326.1,226.5 L327.4,228.8 L328.7,230.7 L330.0,233.0 L332.1,236.0 L332.8,237.9 L333.5,240.9 L334.2,243.3 L334.8,245.0 L335.5,247.1 L336.1,249.1 L336.8,251.4 L337.4,253.9 L338.5,255.6 L339.5,258.3 L340.6,260.3 L341.4,262.2 L342.2,264.5 L343.0,266.3 L343.8,267.7 L344.6,270.1 L345.4,271.1 L346.1,273.2 L346.9,275.1 L347.7,277.0 L348.5,279.5 L349.3,281.6 L350.1,283.6 L350.6,286.0 L351.1,288.0 L351.7,289.6 L352.2,292.0 L352.6,294.0 L352.9,296.3 L353.3,297.8 L353.7,300.5 L354.0,302.1 L354.4,304.6 L354.7,306.4 L355.0,309.0 L355.3,311.4 L355.6,313.0 L355.9,314.9 L356.2,317.1 L356.5,319.6 L356.8,321.4 L357.1,323.4 L357.4,325.8 L357.6,327.8 L357.9,329.6 L358.2,332.1 L358.5,333.6 L358.8,336.0 L359.6,338.4 L360.5,340.3 L361.3,342.0 L362.2,343.6 L363.0,345.6 L364.4,347.3 L365.8,349.2 L367.2,350.8 L369.0,352.1 L370.7,354.2 L372.5,356.1 L374.3,357.6 L376.0,358.6 L377.8,360.4 L379.6,361.4 L381.3,363.5 L383.1,364.6 L385.2,364.5 L387.4,364.6 L389.5,364.6 L391.6,365.4 L393.7,365.5 L395.8,365.7 L398.5,365.5 L401.1,365.7 L402.2,367.9 L403.2,369.0 L404.3,370.3 L405.3,372.7 L406.4,374.2 L408.0,375.3 L409.6,377.1 L411.2,379.3 L412.8,380.5 L414.6,382.1 L416.3,382.8 L418.1,384.7 L420.8,385.2 L423.4,385.8 L425.2,387.5 L426.9,389.3 L428.7,391.1 L430.5,391.8 L432.2,393.3 L434.0,394.3 L436.1,395.4 L438.2,397.5 L440.4,399.0 L442.5,401.0 L444.6,401.9 L446.7,403.0 L449.3,402.4 L451.9,400.9 L454.0,400.9 L456.2,401.9 L458.3,403.8 L460.4,405.1 L462.2,406.5 L463.9,408.7 L465.7,410.4 L467.1,411.7 L468.6,413.2 L470.0,414.6 L471.8,415.6 L473.5,415.9 L475.3,416.7 L478.0,416.8 L480.6,417.8 L483.2,417.9 L485.8,418.9 L487.6,419.1 L489.3,420.7 L491.1,421.0 L492.9,422.2 L494.6,423.6 L496.4,424.2 L498.5,426.0 L500.7,427.3 L503.9,426.3 L504.9,424.0 L506.0,422.9 L507.0,421.0 L507.6,419.2 L508.3,417.0 L508.9,414.6 L509.6,412.4 L510.2,410.4 L510.7,408.2 L511.1,406.5 L511.6,403.8 L512.0,402.0 L512.5,399.8 L512.9,398.2 L513.4,395.6 L513.6,394.0 L513.9,392.3 L514.1,390.3 L514.3,387.8 L514.6,385.9 L514.8,384.3 L515.0,382.1 L515.3,380.4 L515.5,378.6 L515.7,376.9 L515.9,375.2 L516.1,373.0 L516.3,371.3 L516.5,368.6 L516.8,367.0 L517.0,365.8 L517.2,362.9 L517.4,361.3 L517.6,359.5 L517.8,356.9 L518.0,354.8 L518.2,353.6 L518.5,351.6 L518.7,349.1 L518.9,346.4 L519.1,344.5 L519.3,342.6 L519.6,340.2 L519.8,338.5 L520.1,336.4 L520.3,334.1 L520.6,332.0 L520.8,330.1 L520.9,327.7 L521.1,326.2 L521.2,324.7 L521.4,322.5 L521.6,319.9 L521.7,318.4 L521.9,316.6 L522.0,314.2 L522.2,312.5 L522.7,310.8 L523.1,308.2 L523.6,306.4 L524.0,303.9 L524.5,302.5 L524.9,300.1 L525.4,297.7 L525.7,295.9 L526.0,293.5 L526.4,291.9 L526.7,289.5 L527.0,288.3 L527.3,286.7 L527.6,284.0 L528.0,282.4 L528.3,280.5 L528.6,278.6 L528.9,276.6 L529.2,275.1 L529.5,273.4 L529.8,271.3 L530.2,269.2 L530.5,267.8 L530.8,265.3 L531.1,263.8 L531.4,261.7 L531.9,259.8 L532.4,257.7 L532.9,255.7 L533.4,252.9 L533.9,251.1 L534.2,249.1 L534.6,246.8 L534.9,244.9 L535.3,243.1 L535.6,240.5 L536.0,238.5 L536.4,235.7 L536.7,234.1 L537.1,232.0 L537.4,230.3 L537.6,228.5 L537.9,226.3 L538.1,224.5 L538.4,221.7 L538.7,220.8 L538.9,218.6 L539.2,216.5 L539.4,214.9 L539.7,212.5 L540.1,210.7 L540.5,208.0 L541.0,205.4 L541.5,204.1 L542.0,201.9 L542.5,199.5 L545.1,197.0 L546.0,194.1 L547.0,191.9 L547.6,190.1 L548.3,187.8 L548.9,185.6 L549.5,183.1 L550.2,181.7 L550.8,179.2 L551.4,176.7 L552.1,175.1 L552.7,172.9 L553.2,170.9 L553.7,168.8 L554.1,167.2 L554.6,165.2 L555.0,163.3 L555.5,161.1 L555.9,159.5 L556.5,158.1 L557.1,155.7 L559.0,157.0 L561.0,155.1 L561.4,152.3 L561.8,149.8 L562.2,148.0 L562.7,146.1 L563.2,144.6 L563.6,142.5 L564.1,140.5 L564.5,142.9 L564.9,144.8 L565.3,146.9 L565.8,149.0 L566.2,150.5 L566.7,152.3 L567.2,154.5 L567.7,152.3 L568.2,149.5 L568.7,147.4 L569.2,145.6 L570.2,144.0 L571.1,141.8 L571.5,139.3 L571.9,137.8 L572.3,135.4 L573.0,137.6 L573.6,139.2 L573.9,141.0 L574.2,143.2 L574.6,145.3 L574.9,146.9 L575.5,149.2 L576.1,150.7 L576.3,148.4 L576.5,146.5 L576.8,144.8 L577.0,143.0 L577.2,140.9 L577.4,139.2 L577.7,136.8 L578.0,135.5 L578.2,134.0 L578.5,131.5 L578.8,129.7 L579.1,127.8 L579.5,129.6 L579.9,131.5 L580.2,133.9 L580.6,135.4 L580.9,137.1 L581.2,139.4 L581.6,141.1 L581.9,143.0 L583.1,145.6 L585.0,143.0 L586.3,141.8 L587.2,143.7 L588.2,145.6 L590.1,148.1 L592.0,150.7 L593.3,153.1 L594.6,154.5 L595.9,156.6 L597.1,159.6 L598.0,161.9 L599.0,163.4 L600.9,165.9 L601.8,167.7 L602.8,170.0 L603.4,172.2 L603.9,174.3 L604.5,176.0 L605.0,178.2 L605.5,179.9 L606.0,182.4 L606.5,184.0 L607.1,185.6 L607.8,188.1 L608.4,189.9 L609.0,192.0 L609.7,194.0 L610.4,196.4 L611.0,198.3 L611.7,200.0 L612.5,202.0 L613.2,203.5 L614.0,205.3 L614.8,207.5 L615.5,209.6 L616.2,211.5 L616.9,214.0 L617.5,216.0 L618.2,219.0 L618.8,220.7 L619.2,222.5 L619.6,225.6 L620.0,227.5 L620.3,229.3 L620.6,231.2 L620.9,233.0 L621.2,234.6 L621.5,237.0 L621.7,239.0 L621.8,240.6 L622.0,242.9 L622.2,244.8 L622.3,247.4 L622.5,249.0 L622.7,251.6 L622.8,253.2 L623.0,255.6 L623.1,258.0 L623.3,259.5 L623.4,261.4 L623.6,264.0 L624.0,265.8 L624.4,267.9 L624.8,270.6 L625.2,272.3 L625.6,274.6 L626.1,276.6 L626.7,279.2 L627.2,280.7 L627.7,283.4 L628.3,285.3 L628.8,287.3 L629.4,289.1 L630.0,291.5 L630.7,292.8 L631.3,295.3 L631.9,296.8 L632.7,299.1 L633.5,300.5 L634.3,302.6 L635.1,304.2 L636.2,306.5 L637.2,308.2 L638.3,310.0 L639.4,311.6 L640.8,313.8 L642.2,315.7 L643.6,317.0 L645.7,314.0 L647.3,316.3 L648.9,318.0 L650.3,320.0 L651.7,320.6 L653.1,322.3 L654.5,324.2 L656.0,326.0 L657.4,327.5 L658.7,329.2 L660.0,331.1 L661.4,332.8 L662.7,335.0 L664.5,337.3 L666.2,338.4 L668.0,340.3 L669.8,342.0 L671.5,344.3 L673.3,345.6 L675.1,346.7 L676.8,349.0 L678.6,350.0 L680.0,351.0 L681.3,352.3 L682.6,353.9 L684.0,355.9 L685.3,357.8 L687.1,359.4 L688.8,361.8 L690.6,363.1 L692.4,364.2 L694.1,364.8 L695.9,365.2 L697.7,365.8 L699.4,366.6 L701.2,367.3 L703.0,368.1 L704.7,369.8 L706.5,370.5 L708.6,370.9 L710.7,371.6 L712.9,370.3 L715.0,369.4 L716.8,368.5 L718.5,366.9 L720.3,366.3 L722.1,364.7 L723.8,363.9 L725.6,362.0 L727.0,360.2 L728.4,358.8 L729.8,357.8 L731.9,355.9 L734.0,354.6 L736.1,354.3 L738.3,354.6 L741.4,353.6 L743.2,354.5 L745.0,355.5 L747.5,356.2 L749.9,357.4 L752.5,356.9 L755.2,356.7 L757.0,355.0 L758.7,353.6 L760.5,352.5 L762.3,351.6 L764.0,350.2 L765.8,349.3 L767.4,347.1 L769.0,345.1 L769.6,343.3 L770.3,340.4 L770.9,338.3 L771.6,337.0 L772.2,334.5 L772.6,332.3 L773.0,330.6 L773.5,327.7 L773.9,326.0 L774.3,323.9 L774.7,322.2 L775.1,319.5 L775.6,317.8 L776.0,315.5 L776.4,313.3 L776.8,311.1 L777.1,309.6 L777.5,306.8 L777.9,304.8 L778.2,302.7 L778.5,300.7 L778.9,298.3 L779.2,296.4 L779.5,294.5 L779.9,292.0 L780.2,289.6 L780.4,287.8 L780.5,285.8 L780.7,284.4 L780.9,282.5 L781.0,280.4 L781.2,278.1 L781.4,276.1 L781.6,274.3 L781.7,271.9 L781.9,270.5 L782.1,268.1 L782.4,267.1 L782.6,264.2 L782.8,263.1 L783.0,260.9 L783.3,259.2 L783.5,256.3 L783.7,254.6 L784.0,253.1 L784.2,250.3 L784.4,248.5 L784.6,246.8 L784.9,244.6 L785.1,243.0 L785.3,240.7 L785.5,239.3 L785.7,236.8 L785.9,235.8 L786.1,233.5 L786.2,230.9 L786.4,229.9 L786.6,227.3 L786.8,225.6 L787.0,223.8 L787.2,221.8 L787.4,219.5 L787.6,218.0 L787.9,215.6 L788.1,213.8 L788.3,212.7 L788.5,210.7 L788.7,208.5 L789.0,206.7 L789.2,205.0 L789.4,202.7 L789.7,200.2 L790.0,198.5 L790.3,195.9 L790.6,193.8 L790.9,191.7 L791.2,190.0 L791.8,187.6 L792.3,185.4 L792.9,183.5 L793.4,181.6 L794.0,179.8 L794.5,178.0 L795.1,175.5 L795.5,174.1 L795.8,172.0 L796.2,169.9 L796.5,168.4 L796.9,165.7 L797.2,163.8 L797.6,162.7 L797.9,160.6 L798.3,158.6 L798.5,156.4 L798.8,154.7 L799.0,152.7 L799.2,151.0 L799.5,149.1 L799.7,147.2 L799.9,145.7 L800.2,143.8 L800.4,141.6 L800.6,139.7 L800.9,137.6 L801.1,135.4 L801.4,134.0 L801.6,132.2 L801.9,129.7 L802.2,127.4 L802.5,126.0 L802.8,124.0 L803.0,121.9 L803.3,119.3 L803.6,117.8 L804.0,115.7 L804.5,113.2 L804.9,111.1 L805.3,109.3 L805.9,107.1 L806.4,104.9 L807.0,102.5 L807.4,100.5 L807.9,98.6 L808.3,96.4 L808.7,94.1 L808.9,92.1 L809.2,89.7 L809.4,88.6 L809.7,86.7 L809.9,84.8 L810.2,82.6 L810.4,80.5 L810.6,78.0 L810.9,76.3 L811.1,74.2 L811.4,72.9 L811.6,70.8 L811.9,68.5 L812.1,66.9 L813.8,63.6 L814.4,66.3 L814.9,68.6 L815.5,70.3 L816.4,68.2 L817.2,65.3 L818.0,62.7 L818.9,60.2 L820.6,57.0 L821.7,54.4 L822.8,52.3 L823.8,49.9 L824.9,48.1 L825.1,46.3 L825.3,44.1 L825.5,41.5 L825.6,40.1 L825.8,37.6 L826.0,35.3 L826.2,33.2 L826.4,31.2 L827.7,29.0 L828.0,31.4 L828.3,33.2 L828.6,35.5 L828.9,37.1 L829.2,39.6 L831.3,38.6 L832.0,40.6 L832.7,41.9 L833.4,43.9 L834.1,42.2 L834.9,39.6 L837.0,41.7 L838.7,39.6 L839.0,41.4 L839.3,43.6 L839.6,46.0 L839.9,47.9 L840.2,50.2 L840.5,52.8 L840.8,54.4 L842.9,52.3 L843.3,49.9 L843.7,48.4 L844.2,46.2 L844.6,44.1 L845.0,41.7 L847.1,39.6 L847.8,41.7 L848.6,43.8 L849.3,46.0 L850.3,47.9 L851.4,50.2 L851.9,52.3 L852.5,54.2 L853.0,56.2 L853.5,58.7 L854.1,60.8 L854.6,62.6 L855.2,65.0 L856.0,67.1 L856.7,69.3 L857.2,67.2 L857.6,64.8 L858.1,62.9 L859.0,64.6 L859.8,67.1 L860.3,69.2 L860.9,71.4 L861.5,72.7 L862.0,75.0 L863.0,77.6 L864.0,80.0" stroke="#ff420e" stroke-width="2.6" fill="none" stroke-linejoin="round" stroke-linecap="round"/>
<path d="M33.5,110.4 L34.8,109.3 L35.2,107.0 L35.5,105.4 L35.9,103.2 L36.3,101.5 L36.7,99.6 L37.0,97.0 L37.4,95.5 L38.8,97.1 L40.1,99.8 L41.4,102.5 L42.7,104.5 L43.6,102.3 L44.5,100.3 L45.4,98.7 L48.0,100.8 L50.1,100.8 L50.6,103.5 L51.2,105.0 L51.7,107.2 L53.8,107.7 L56.5,106.1 L57.5,107.5 L58.4,109.6 L59.2,110.9 L60.1,112.6 L61.4,115.3 L62.6,117.7 L63.9,119.2 L65.2,121.5 L66.5,124.2 L67.7,126.6 L68.3,128.9 L69.0,130.4 L69.6,132.3 L70.5,134.8 L71.5,136.8 L72.5,139.2 L73.4,141.2 L75.3,144.4 L77.9,146.9 L79.2,148.0 L80.4,150.1 L81.7,152.0 L83.0,153.3 L85.5,155.8 L88.0,158.4 L89.3,160.1 L90.6,161.6 L93.1,164.1 L94.3,165.8 L95.5,167.4 L96.8,170.2 L98.0,171.7 L99.2,173.6 L100.3,175.9 L101.3,178.2 L102.4,179.9 L103.5,181.7 L104.5,183.6 L105.5,184.6 L106.6,186.3 L107.6,188.5 L108.7,189.9 L109.8,192.3 L110.8,193.7 L112.2,195.5 L113.7,196.1 L115.1,197.9 L116.5,196.1 L117.9,194.8 L119.3,193.7 L120.4,192.6 L121.4,190.4 L122.5,189.0 L123.6,187.3 L125.7,186.0 L127.8,185.2 L129.6,186.3 L131.3,187.2 L133.1,188.4 L134.9,190.0 L136.6,192.0 L138.4,193.7 L139.3,195.8 L140.1,198.1 L141.0,199.7 L141.7,202.0 L142.4,204.4 L143.1,206.0 L144.1,208.0 L145.2,209.2 L147.3,211.3 L150.0,212.5 L151.9,212.2 L153.8,214.1 L155.7,216.0 L157.6,217.3 L159.5,217.9 L161.1,219.5 L162.7,221.1 L164.0,223.0 L164.9,224.9 L166.2,227.6 L167.5,229.2 L167.9,231.3 L168.3,232.7 L168.7,235.0 L169.2,237.5 L169.8,239.8 L170.3,241.4 L171.0,243.6 L171.7,245.0 L172.4,246.7 L174.5,249.8 L175.6,252.2 L176.7,254.1 L178.8,257.2 L179.9,259.0 L180.9,261.5 L181.9,264.0 L183.0,265.7 L184.1,267.9 L185.1,270.0 L186.1,271.9 L187.2,274.2 L188.3,275.8 L189.4,278.4 L190.4,280.4 L191.5,281.6 L192.6,283.7 L193.6,284.8 L194.4,286.2 L195.1,288.8 L195.9,290.3 L197.3,292.3 L198.7,294.1 L200.1,296.6 L200.9,298.2 L201.7,300.6 L202.5,302.6 L203.3,304.0 L204.4,305.3 L205.4,307.7 L206.5,309.3 L208.1,307.7 L209.7,307.2 L210.7,309.6 L211.8,311.3 L212.8,313.6 L214.4,316.1 L216.0,317.8 L217.6,317.3 L219.2,315.7 L220.8,317.8 L222.4,319.9 L224.5,319.4 L226.6,317.8 L228.0,319.0 L229.4,320.1 L230.8,322.0 L232.9,322.7 L235.1,323.1 L237.2,323.1 L239.3,324.2 L242.5,323.1 L243.2,321.0 L243.9,319.5 L244.6,317.8 L245.7,315.8 L246.7,313.2 L247.8,311.4 L249.2,309.1 L250.6,308.3 L252.0,306.1 L253.4,304.5 L254.9,303.8 L256.3,301.9 L257.7,300.6 L259.1,298.2 L260.5,296.6 L261.0,294.4 L261.6,292.4 L262.1,290.4 L262.6,288.1 L264.7,286.0 L266.9,284.6 L269.0,283.0 L270.0,281.3 L271.1,279.5 L272.1,278.1 L273.1,275.8 L274.0,273.7 L274.8,271.5 L275.7,269.5 L276.9,267.8 L278.2,265.7 L279.8,263.5 L281.4,261.9 L283.0,259.7 L284.6,258.0 L285.2,256.4 L285.9,253.8 L286.5,251.7 L288.4,249.8 L290.9,247.2 L292.2,245.7 L293.5,244.1 L295.9,242.1 L298.3,241.1 L300.1,239.9 L301.8,239.1 L303.6,237.9 L305.7,236.9 L307.8,236.9 L309.9,235.4 L312.0,233.7 L313.6,235.4 L315.2,236.9 L317.3,237.5 L319.4,239.0 L321.5,239.1 L323.7,239.0 L325.3,241.1 L326.9,243.2 L330.0,244.4 L331.6,246.7 L333.2,248.6 L334.3,250.6 L335.3,253.1 L336.4,255.0 L337.2,257.1 L337.9,258.2 L338.7,260.1 L339.5,262.4 L340.6,264.7 L341.6,267.1 L342.7,268.4 L343.8,270.8 L344.8,272.9 L345.9,275.2 L346.9,277.2 L347.7,278.9 L348.5,280.8 L349.3,282.5 L350.1,284.6 L350.5,286.4 L350.9,288.5 L351.4,290.1 L351.8,292.1 L352.2,294.2 L352.6,296.6 L353.1,297.9 L353.5,300.6 L354.0,302.9 L354.4,304.7 L354.9,306.6 L355.4,308.6 L356.0,311.4 L356.5,313.2 L356.7,314.9 L356.9,316.9 L357.1,319.2 L357.3,321.6 L357.5,322.9 L357.7,325.4 L358.2,327.2 L358.8,329.1 L359.3,331.6 L359.8,333.1 L360.4,335.5 L360.9,337.1 L361.9,338.9 L363.0,341.2 L364.1,343.6 L365.1,345.6 L366.9,347.8 L368.6,349.0 L370.4,350.8 L372.0,351.7 L373.6,352.7 L375.2,354.4 L376.8,355.5 L378.9,356.1 L381.0,357.7 L383.1,358.3 L385.2,359.4 L387.4,359.4 L389.5,360.4 L392.7,361.4 L394.1,359.8 L395.5,358.9 L396.9,357.2 L399.0,358.4 L401.1,359.3 L402.0,361.3 L402.8,362.5 L403.7,364.0 L404.5,365.9 L405.4,367.8 L407.2,369.9 L408.9,371.1 L410.7,373.1 L412.8,374.3 L414.9,375.8 L417.0,377.3 L419.6,377.8 L422.3,378.4 L423.7,379.7 L425.2,381.7 L426.6,382.6 L428.0,384.0 L429.4,385.6 L430.8,387.9 L432.6,389.5 L434.3,390.5 L436.1,391.1 L437.5,393.4 L438.9,394.6 L440.3,396.4 L441.9,398.5 L443.5,399.6 L446.7,400.9 L448.8,401.0 L450.9,400.2 L453.0,399.9 L455.1,400.2 L457.2,401.9 L459.4,403.0 L460.8,404.8 L462.2,406.0 L463.6,407.2 L465.0,408.6 L466.4,409.8 L467.8,411.4 L470.0,412.3 L472.1,413.6 L474.8,413.3 L477.4,413.6 L480.0,413.9 L482.7,415.1 L485.4,414.9 L488.0,414.6 L490.1,414.2 L492.2,414.2 L494.3,415.8 L496.4,416.7 L498.5,417.3 L500.7,418.9 L503.9,417.8 L505.4,416.1 L507.0,413.6 L507.8,412.0 L508.6,410.4 L509.4,408.5 L510.2,406.2 L511.0,404.5 L511.8,402.0 L512.6,399.3 L513.4,397.7 L514.2,395.8 L515.0,393.1 L515.8,391.1 L516.6,389.2 L517.0,387.3 L517.5,385.0 L517.9,382.8 L518.4,381.2 L518.8,378.8 L519.3,376.3 L519.7,374.4 L519.9,372.2 L520.2,371.0 L520.4,368.7 L520.7,367.2 L520.9,364.8 L521.2,362.7 L521.4,361.2 L521.7,359.6 L521.9,357.4 L522.2,354.9 L522.5,353.5 L522.8,351.5 L523.1,349.3 L523.4,347.2 L523.7,344.2 L524.0,342.6 L524.3,340.6 L524.7,338.8 L525.0,335.7 L525.4,333.9 L525.7,332.0 L526.0,329.6 L526.3,327.7 L526.6,325.4 L526.9,323.2 L527.2,321.4 L527.5,318.9 L527.8,316.2 L528.1,314.2 L528.4,312.1 L528.8,310.0 L529.1,307.8 L529.4,306.7 L529.7,304.0 L529.9,302.4 L530.1,299.5 L530.3,298.0 L530.5,295.8 L530.8,293.7 L531.0,291.8 L531.2,290.1 L531.4,288.0 L531.6,285.8 L531.8,283.9 L532.6,285.3 L533.5,287.2 L534.3,289.2 L535.2,286.7 L536.2,285.0 L537.1,282.8 L537.5,281.1 L537.9,278.9 L538.4,276.6 L538.8,274.8 L539.2,273.3 L539.8,271.3 L540.5,269.6 L541.1,267.9 L541.8,265.6 L542.4,263.8 L543.8,262.1 L545.1,259.7 L545.5,257.9 L546.0,255.8 L546.4,253.8 L546.8,252.0 L547.2,250.4 L547.6,248.1 L548.1,246.5 L548.5,244.4 L549.3,242.3 L550.2,240.0 L551.0,238.3 L551.9,236.5 L552.7,234.2 L553.8,231.6 L554.9,229.9 L555.9,227.8 L557.0,225.8 L557.8,224.1 L558.6,222.0 L559.5,219.3 L560.3,217.3 L561.2,216.0 L562.0,214.2 L562.9,212.2 L564.6,210.2 L566.3,208.8 L566.7,206.9 L567.1,204.6 L567.6,203.4 L568.0,201.2 L570.5,198.6 L572.2,197.5 L573.9,196.1 L576.0,196.9 L578.1,196.9 L579.0,195.0 L579.8,192.6 L580.7,190.2 L582.4,188.8 L584.1,186.8 L585.4,184.3 L586.6,181.7 L588.4,179.7 L590.0,178.2 L591.6,177.6 L593.2,176.6 L594.7,175.4 L596.9,176.0 L599.0,177.6 L601.1,178.8 L603.2,180.7 L604.3,182.8 L605.3,183.7 L606.4,186.0 L606.9,187.4 L607.5,189.3 L608.0,192.0 L608.5,193.4 L609.2,195.3 L610.0,198.0 L610.7,199.8 L611.3,203.0 L612.0,205.0 L612.5,206.5 L613.0,209.2 L613.5,210.9 L614.0,213.0 L614.4,215.1 L614.9,216.6 L615.4,218.7 L615.9,220.3 L616.3,221.9 L616.7,224.8 L617.2,226.6 L617.6,228.9 L618.0,230.8 L618.4,232.5 L618.7,235.3 L619.0,237.7 L619.4,238.9 L619.8,241.3 L620.1,243.6 L620.5,245.8 L620.9,248.2 L621.4,249.7 L621.8,251.7 L622.2,254.2 L622.6,256.2 L623.0,259.0 L623.4,261.5 L623.8,263.5 L624.2,265.5 L624.6,267.6 L625.1,269.7 L625.5,271.8 L625.9,274.1 L626.4,276.1 L627.0,277.9 L627.5,280.5 L628.0,283.1 L628.6,284.6 L629.1,286.8 L629.7,289.0 L630.3,290.2 L631.0,292.7 L631.6,294.7 L632.2,296.3 L633.0,298.3 L633.8,300.0 L634.6,301.8 L635.4,303.7 L636.5,305.7 L637.5,307.8 L638.6,308.9 L639.7,311.1 L641.1,312.4 L642.5,314.9 L643.9,316.4 L646.0,313.3 L647.6,315.9 L649.2,317.5 L650.6,318.9 L652.0,320.2 L653.4,321.7 L654.8,323.7 L656.3,324.9 L657.7,327.0 L659.0,328.6 L660.4,330.4 L661.7,332.6 L663.0,334.4 L664.8,336.0 L666.5,337.6 L668.3,339.7 L670.1,341.7 L671.8,343.7 L673.6,345.0 L675.4,346.2 L677.1,348.1 L678.9,349.3 L680.7,351.0 L682.4,353.2 L684.2,354.6 L685.5,356.3 L686.9,357.5 L688.2,359.1 L689.5,361.0 L691.3,361.5 L693.0,363.1 L694.8,364.2 L697.5,364.6 L700.1,365.2 L701.9,365.5 L703.6,366.4 L705.4,367.3 L708.0,367.9 L710.7,368.8 L713.4,368.9 L716.0,368.4 L717.8,367.3 L719.5,367.5 L721.3,366.3 L723.1,365.2 L724.8,364.3 L726.6,363.1 L728.4,362.4 L730.1,362.1 L731.9,361.0 L733.7,360.3 L735.4,358.9 L737.2,357.8 L739.9,357.2 L742.5,356.7 L745.1,356.9 L747.8,356.7 L750.5,357.4 L753.1,357.4 L754.9,356.0 L756.6,355.1 L758.4,353.6 L760.2,353.4 L761.9,352.1 L763.7,351.4 L765.8,349.6 L767.9,348.3 L769.5,345.9 L771.1,344.0 L773.5,341.5 L775.6,339.0 L776.3,336.7 L777.0,334.0 L777.8,331.8 L778.5,329.3 L779.0,327.8 L779.5,325.7 L780.0,323.1 L780.5,321.0 L781.0,319.1 L781.5,317.4 L781.9,315.0 L782.4,313.5 L782.8,311.6 L783.3,309.5 L783.7,307.0 L784.0,304.6 L784.3,303.2 L784.6,300.5 L785.0,298.5 L785.3,296.7 L785.6,293.9 L785.9,292.2 L786.1,289.7 L786.3,288.5 L786.5,285.9 L786.7,284.0 L786.9,282.2 L787.1,280.3 L787.3,277.5 L787.5,275.9 L787.7,274.0 L787.9,272.0 L788.1,270.0 L788.5,267.6 L788.9,266.0 L789.2,264.4 L789.6,261.7 L790.0,259.9 L790.4,257.8 L791.2,255.3 L792.1,253.6 L792.2,251.2 L792.3,249.5 L792.3,246.8 L792.4,245.5 L792.5,243.0 L792.9,241.3 L793.4,238.3 L793.8,237.1 L794.3,234.4 L794.7,232.4 L795.5,230.5 L796.4,228.1 L796.4,226.3 L796.5,223.7 L796.5,222.0 L796.6,219.8 L796.6,217.9 L796.7,215.2 L796.8,213.6 L796.8,211.2 L797.0,209.8 L797.1,207.5 L797.3,205.4 L797.5,203.0 L797.6,201.4 L797.8,199.5 L799.4,198.3 L801.0,197.4 L801.9,195.0 L802.7,192.1 L803.0,190.2 L803.4,188.0 L803.7,185.6 L804.0,184.0 L804.4,181.9 L804.7,179.7 L805.1,177.2 L805.4,175.9 L805.8,173.5 L806.1,170.8 L806.4,169.6 L806.8,167.0 L807.3,164.5 L807.9,162.6 L808.4,160.9 L808.9,158.6 L809.5,156.5 L810.0,154.3 L810.6,152.3 L811.2,150.0 L811.9,147.7 L812.5,145.5 L813.1,143.7 L813.6,141.1 L814.2,139.7 L814.7,137.6 L815.2,135.3 L815.8,133.4 L816.3,131.0 L816.7,128.9 L817.1,126.9 L817.6,125.2 L818.0,123.8 L818.4,121.5 L819.5,118.5 L820.6,116.5 L822.2,115.3 L823.7,114.1 L825.3,111.7 L826.9,109.8 L828.3,108.0 L829.7,105.6 L830.8,107.0 L831.8,108.8 L833.0,106.5 L834.3,104.5 L835.9,105.5 L837.5,106.7 L838.5,104.6 L839.6,102.4 L841.2,103.7 L842.8,104.5 L844.4,102.8 L846.0,101.4 L847.0,99.3 L848.1,96.5 L849.3,95.7 L852.4,94.7 L855.6,95.7 L857.2,94.2 L858.8,93.6 L862.0,93.6 L864.1,94.7" stroke="#ffd320" stroke-width="2.6" fill="none" stroke-linejoin="round" stroke-linecap="round"/>
<path d="M49.8,78.1V80.7" stroke="#579d1c" stroke-width="1.6" fill="none"/>
<path d="M52.2,87.6V90.2" stroke="#579d1c" stroke-width="1.6" fill="none"/>
<path d="M55.4,87.6V90.2" stroke="#579d1c" stroke-width="1.6" fill="none"/>
<path d="M67.5,121.0 L69.0,123.5" stroke="#579d1c" stroke-width="2.6" fill="none" stroke-linejoin="round" stroke-linecap="round"/>
<path d="M83.0,148.5 L87.0,151.5" stroke="#579d1c" stroke-width="2.6" fill="none" stroke-linejoin="round" stroke-linecap="round"/>
<path d="M120.8,188.0 L122.4,184.8 L124.5,183.2 L126.7,181.1 L128.8,180.6 L130.9,182.2 L133.0,184.3" stroke="#579d1c" stroke-width="2.6" fill="none" stroke-linejoin="round" stroke-linecap="round"/>
<path d="M136.7,186.9 L139.4,189.6" stroke="#579d1c" stroke-width="2.6" fill="none" stroke-linejoin="round" stroke-linecap="round"/>
<path d="M141.5,193.8 L143.1,196.5 L143.9,198.4 L144.7,200.7 L145.4,202.1 L146.1,204.4 L146.8,206.0 L148.9,207.1 L150.0,207.7 L152.5,208.4 L154.5,209.0 L155.7,211.5" stroke="#579d1c" stroke-width="2.6" fill="none" stroke-linejoin="round" stroke-linecap="round"/>
<path d="M158.9,213.4 L160.8,214.7 L162.7,216.6 L164.0,218.5 L165.3,221.1 L166.2,223.6 L167.0,225.2 L167.8,226.8 L168.6,229.0 L169.0,231.2 L169.4,232.5 L169.8,235.0 L170.3,237.7 L170.8,240.3 L171.6,242.3 L172.4,244.5 L174.0,247.7 L175.1,248.8 L176.1,250.9 L178.2,253.5 L180.4,256.2 L181.2,258.1 L182.0,259.9 L183.1,261.2 L184.1,263.6 L185.1,265.4 L186.2,267.3 L187.2,268.7 L188.3,271.0 L189.4,272.7 L190.4,275.3 L192.5,278.4 L194.1,281.6 L194.8,283.5 L195.5,285.5 L197.1,287.9 L198.6,289.5" stroke="#579d1c" stroke-width="2.6" fill="none" stroke-linejoin="round" stroke-linecap="round"/>
<path d="M200.5,289.5 L202.4,292.4" stroke="#579d1c" stroke-width="2.6" fill="none" stroke-linejoin="round" stroke-linecap="round"/>
<path d="M206.2,299.1 L208.6,303.9" stroke="#579d1c" stroke-width="2.6" fill="none" stroke-linejoin="round" stroke-linecap="round"/>
<path d="M214.3,309.6 L218.1,308.6" stroke="#579d1c" stroke-width="2.6" fill="none" stroke-linejoin="round" stroke-linecap="round"/>
<path d="M222.0,312.9 L222.9,313.4" stroke="#579d1c" stroke-width="2.6" fill="none" stroke-linejoin="round" stroke-linecap="round"/>
<path d="M225.3,313.9 L226.7,315.3" stroke="#579d1c" stroke-width="2.6" fill="none" stroke-linejoin="round" stroke-linecap="round"/>
<path d="M229.1,315.4V318.0" stroke="#579d1c" stroke-width="1.6" fill="none"/>
<path d="M233.4,318.2 L239.6,320.1" stroke="#579d1c" stroke-width="2.6" fill="none" stroke-linejoin="round" stroke-linecap="round"/>
<path d="M244.5,317.0 L245.5,314.3 L246.5,312.0 L246.9,309.6 L247.3,308.2 L247.7,306.0 L247.9,303.5 L248.0,302.0 L248.2,299.9 L248.3,297.5 L248.5,296.0 L248.7,293.5 L248.8,291.9 L249.0,290.0 L249.0,287.6 L249.1,285.7 L249.1,284.1 L249.2,282.7 L249.2,280.0 L249.3,278.2 L249.3,276.7 L249.4,275.1 L249.4,272.8 L249.5,270.7 L249.5,269.4 L249.6,266.4 L249.6,265.0 L250.0,263.3 L250.5,260.6 L250.9,258.7 L251.0,256.3 L251.1,254.2 L251.2,252.4 L251.3,251.0 L251.4,248.3 L251.5,246.6 L252.8,247.2 L253.3,249.5 L253.8,251.7 L254.2,250.0 L254.7,247.9 L255.3,245.9 L256.0,244.1 L256.2,242.0 L256.4,239.4 L256.6,237.7 L256.8,235.3 L256.9,233.6 L257.1,232.2 L257.2,230.1 L257.6,228.1 L258.0,226.3" stroke="#579d1c" stroke-width="2.6" fill="none" stroke-linejoin="round" stroke-linecap="round"/>
<path d="M262.2,214.4V217.0" stroke="#579d1c" stroke-width="1.6" fill="none"/>
<path d="M266.5,205.9V208.5" stroke="#579d1c" stroke-width="1.6" fill="none"/>
<path d="M269.7,196.6 L273.9,186.0" stroke="#579d1c" stroke-width="2.6" fill="none" stroke-linejoin="round" stroke-linecap="round"/>
<path d="M278.1,182.6V185.2" stroke="#579d1c" stroke-width="1.6" fill="none"/>
<path d="M284.5,175.2V177.8" stroke="#579d1c" stroke-width="1.6" fill="none"/>
<path d="M381.5,337.5 L383.0,338.5" stroke="#579d1c" stroke-width="2.6" fill="none" stroke-linejoin="round" stroke-linecap="round"/>
<path d="M386.8,341.8 L388.2,343.0" stroke="#579d1c" stroke-width="2.6" fill="none" stroke-linejoin="round" stroke-linecap="round"/>
<path d="M393.7,344.5 L395.8,344.3 L398.0,344.1 L400.1,344.5 L401.5,346.4 L402.9,347.6 L404.3,349.8 L406.5,351.4 L408.6,353.0 L410.0,354.3 L411.4,355.3 L412.8,357.2 L414.6,358.6 L416.3,359.5 L418.1,361.4 L420.8,361.3 L423.4,361.4 L425.0,363.1 L426.6,365.7 L428.0,366.6 L429.4,368.4 L430.8,369.9 L432.9,371.5 L435.0,372.3 L436.1,373.7 L437.1,375.5 L438.2,377.6 L439.6,379.8 L441.0,382.3 L442.4,383.9 L444.5,385.6 L446.7,387.1 L448.8,387.2 L450.9,387.5 L453.0,387.6 L455.1,386.7 L457.2,387.5 L459.4,389.2 L460.8,391.0 L462.2,391.8 L463.6,393.4 L465.4,394.1 L467.1,395.1 L468.9,396.6 L470.7,397.5 L472.4,399.1 L474.2,399.8 L476.0,400.5 L477.7,402.0 L479.5,403.0 L481.6,404.8 L483.7,406.2 L485.9,405.5 L488.0,405.1 L490.1,404.1 L492.2,403.0 L494.9,402.0 L497.5,401.9 L499.6,402.0 L501.7,403.0 L504.9,403.0 L506.0,400.9 L507.0,399.7 L508.1,397.7 L508.7,395.5 L509.4,393.3 L510.0,391.4 L510.7,389.2 L511.3,387.1 L511.6,385.0 L512.0,383.6 L512.3,381.7 L512.6,379.3 L513.0,377.7 L513.3,375.8 L513.7,374.3 L514.0,372.0" stroke="#579d1c" stroke-width="2.6" fill="none" stroke-linejoin="round" stroke-linecap="round"/>
<path d="M522.2,264.6V267.2" stroke="#579d1c" stroke-width="1.6" fill="none"/>
<path d="M531.8,207.0V209.6" stroke="#579d1c" stroke-width="1.6" fill="none"/>
<path d="M534.4,198.5V201.1" stroke="#579d1c" stroke-width="1.6" fill="none"/>
<path d="M541.8,168.0 L545.0,153.2" stroke="#579d1c" stroke-width="2.6" fill="none" stroke-linejoin="round" stroke-linecap="round"/>
<path d="M556.4,127.1V129.7" stroke="#579d1c" stroke-width="1.6" fill="none"/>
<path d="M566.0,106.3V108.9" stroke="#579d1c" stroke-width="1.6" fill="none"/>
<path d="M572.4,113.6 L573.1,111.6 L573.8,109.7 L574.5,108.3 L576.6,109.3 L578.3,112.5 L579.8,111.4 L580.0,113.5 L580.1,114.8 L580.3,117.3 L580.5,119.1 L580.6,120.7 L580.8,123.1 L581.9,121.5 L583.0,119.9 L583.2,117.3 L583.4,115.6 L583.6,113.1 L583.9,111.0 L584.1,109.3 L584.3,107.6 L584.5,104.7 L584.7,103.0 L585.0,100.8 L585.3,99.3 L585.5,97.7 L585.8,95.4 L586.1,93.4 L586.4,91.4 L586.7,90.1 L587.0,87.2 L587.3,86.2 L587.6,83.9 L588.5,86.3 L589.3,89.2 L591.4,87.1 L591.5,84.7 L591.7,82.6 L591.8,80.8 L591.9,79.3 L592.1,76.6 L592.2,75.0 L592.4,73.1 L592.5,70.7 L592.6,68.9 L592.8,66.3 L592.9,64.8 L594.2,63.8 L594.4,65.2 L594.6,67.3 L594.8,69.8 L594.9,71.5 L595.1,73.3 L595.3,75.4 L595.4,77.6 L595.5,79.6 L595.6,81.6 L595.8,84.2 L595.9,86.3 L596.0,87.9 L596.1,90.3 L596.5,92.3 L597.0,94.2 L597.4,96.5 L597.8,98.0 L598.0,100.4 L598.2,102.0 L598.4,104.9 L598.6,106.1 L598.9,108.5 L599.1,111.0 L599.3,112.5 L599.5,115.0 L599.6,117.1 L599.8,118.8 L599.9,121.6 L600.1,123.9 L600.2,125.8 L600.4,128.3 L600.5,130.0 L600.7,131.9 L600.8,134.5 L601.0,136.5 L601.1,138.7 L601.3,140.7 L601.4,143.2 L601.6,145.0 L602.0,147.5 L602.3,149.0 L602.6,151.2 L603.0,153.0 L604.5,154.0" stroke="#579d1c" stroke-width="2.6" fill="none" stroke-linejoin="round" stroke-linecap="round"/>
<path d="M638.6,288.9 L639.7,290.8 L640.7,292.8 L641.8,295.3 L643.9,297.0 L646.0,298.4 L647.8,298.7 L649.5,299.9 L651.3,300.6 L653.5,301.5 L655.6,302.7 L656.6,304.0 L657.7,306.2 L658.7,308.0 L659.8,309.3 L660.8,311.5 L661.9,313.3 L663.0,314.9 L664.0,317.0 L665.1,319.6" stroke="#579d1c" stroke-width="2.6" fill="none" stroke-linejoin="round" stroke-linecap="round"/>
<path d="M674.6,327.0 L677.8,330.2" stroke="#579d1c" stroke-width="2.6" fill="none" stroke-linejoin="round" stroke-linecap="round"/>
<path d="M680.0,333.0 L684.0,336.0" stroke="#579d1c" stroke-width="2.6" fill="none" stroke-linejoin="round" stroke-linecap="round"/>
<path d="M688.5,339.8 L690.3,340.7 L692.0,341.5 L693.8,343.0 L696.5,344.0 L699.1,344.7 L701.8,344.2 L704.4,344.7 L707.0,345.1 L709.7,345.5 L712.4,345.4 L715.0,345.5 L717.6,344.3 L720.3,344.0 L723.0,343.5 L725.6,343.0 L728.2,341.4 L730.8,340.8 L733.5,340.2 L736.1,339.8 L738.8,339.8 L741.4,340.8 L744.0,340.9 L746.7,341.9 L749.4,342.4 L752.0,343.0 L754.1,342.8 L756.3,341.9 L759.0,340.9 L761.6,340.8 L763.7,339.4 L765.8,338.7 L767.9,337.3 L770.0,335.6 L771.6,333.9 L773.2,331.3 L774.1,329.3 L775.1,327.0 L776.0,325.0" stroke="#579d1c" stroke-width="2.6" fill="none" stroke-linejoin="round" stroke-linecap="round"/>
<path d="M792.5,145.0 L795.3,126.0" stroke="#579d1c" stroke-width="2.6" fill="none" stroke-linejoin="round" stroke-linecap="round"/>
<path d="M801.3,97.0 L805.0,80.0 L809.0,67.0" stroke="#579d1c" stroke-width="2.6" fill="none" stroke-linejoin="round" stroke-linecap="round"/>
<path d="M815.8,40.4V43.0" stroke="#579d1c" stroke-width="1.6" fill="none"/>
<path d="M817.5,34.3 L819.0,30.1" stroke="#579d1c" stroke-width="2.6" fill="none" stroke-linejoin="round" stroke-linecap="round"/>
<path d="M828.5,22.5V25.1" stroke="#579d1c" stroke-width="1.6" fill="none"/>
<path d="M837.0,17.4 L838.7,19.5 L839.2,22.0 L839.7,24.8 L840.2,26.5 L840.8,29.0 L841.2,31.3 L841.6,32.8 L842.1,35.4 L842.5,37.5" stroke="#579d1c" stroke-width="2.6" fill="none" stroke-linejoin="round" stroke-linecap="round"/>
<path d="M846.1,33.0V35.6" stroke="#579d1c" stroke-width="1.6" fill="none"/>
<path d="M863.7,16.1V18.7" stroke="#579d1c" stroke-width="1.6" fill="none"/>
<path d="M605.2,172.5 L606.7,176.5 L608.4,181.5" stroke="#579d1c" stroke-width="2.6" fill="none" stroke-linejoin="round" stroke-linecap="round"/>
<circle cx="288.7" cy="166.4" r="1.6" fill="#579d1c"/>
<path d="M302.3,144.6V147.2" stroke="#579d1c" stroke-width="1.6" fill="none"/>
<path d="M305.2,151.8V154.4" stroke="#579d1c" stroke-width="1.6" fill="none"/>
<circle cx="309.5" cy="162.9" r="1.6" fill="#579d1c"/>
<path d="M313.7,168.8V171.4" stroke="#579d1c" stroke-width="1.6" fill="none"/>
<circle cx="316.6" cy="169.0" r="1.6" fill="#579d1c"/>
<circle cx="320.3" cy="163.7" r="1.6" fill="#579d1c"/>
<path d="M323.5,141.6V144.2" stroke="#579d1c" stroke-width="1.6" fill="none"/>
<path d="M33.5,92.9 L33.9,91.1 L34.4,89.3 L34.8,87.1 L36.4,83.9 L37.1,86.1 L37.9,87.6 L39.0,90.5 L40.1,92.4 L41.4,94.5 L42.7,96.1 L43.6,94.3 L44.5,91.0 L45.4,89.2 L47.0,91.8 L49.6,91.3 L51.2,94.5 L51.7,96.6 L52.3,99.2 L52.8,100.8 L54.9,99.8 L56.0,101.6 L57.0,103.0 L59.1,104.5 L59.9,106.8 L60.6,107.8 L61.4,110.1 L62.0,112.3 L62.6,114.5 L64.5,117.7 L66.4,119.0 L67.1,120.6 L67.7,122.8 L68.7,125.0 L69.6,127.2 L70.5,129.5 L71.5,131.7 L72.5,133.1 L73.4,135.5 L75.3,138.7 L77.9,141.2 L80.4,143.1 L81.7,144.4 L83.0,146.3 L86.1,148.2 L87.7,149.3 L89.3,150.8 L90.9,152.8 L92.5,153.9 L94.1,155.5 L95.7,156.5 L97.0,157.7 L98.2,159.7 L99.5,161.6 L100.8,162.8 L103.9,164.5 L105.6,166.8 L107.3,167.6 L109.1,169.3 L110.8,170.4 L112.2,171.4 L113.7,172.7 L115.1,174.6 L117.2,175.0 L119.3,174.3 L121.4,174.6 L124.1,174.8 L126.7,175.7 L128.5,177.3 L130.2,178.2 L132.0,178.9 L134.2,180.2 L136.3,182.0 L137.9,184.0 L139.4,185.0 L141.0,186.4 L142.1,188.4 L143.1,190.1 L144.1,191.4 L145.2,193.3 L147.3,196.0 L150.0,196.3 L152.5,198.2 L154.5,200.7 L156.4,203.3 L158.9,204.5 L161.1,205.8 L162.7,207.7 L164.6,210.3 L166.2,212.8 L167.5,215.3 L168.4,217.9 L168.8,220.3 L169.1,221.7 L169.7,224.9 L170.2,227.1 L170.8,229.5 L171.3,231.4 L171.9,232.8 L172.4,235.0 L174.0,238.2 L175.1,239.6 L176.1,241.4 L177.7,243.5 L178.5,245.2 L179.3,247.7 L180.1,249.5 L180.9,252.0 L183.0,255.1 L184.1,256.5 L185.1,258.8 L186.1,260.4 L187.2,262.5 L188.3,264.2 L189.4,265.7 L190.4,266.8 L191.5,268.9 L194.1,271.0 L196.8,272.6 L198.9,273.7 L200.5,275.8 L202.1,277.4 L204.7,278.4 L206.8,280.6 L209.5,283.2 L211.6,284.3 L213.3,286.4 L215.0,288.1 L216.8,289.0 L218.5,290.0 L220.3,291.3 L222.1,292.7 L223.8,293.4 L225.6,294.5 L227.3,295.7 L229.1,297.3 L230.8,298.7 L232.6,300.0 L234.3,300.3 L236.1,301.9 L238.2,302.7 L240.4,302.5 L243.6,300.8 L244.4,298.2 L245.1,296.9 L245.9,294.9 L246.7,292.4 L247.1,289.9 L247.5,288.9 L247.9,286.5 L248.3,284.7 L248.6,282.9 L248.9,280.4 L249.3,278.5 L249.6,277.1 L250.5,274.6 L251.3,273.4 L252.2,270.8 L253.4,267.9 L254.7,265.7 L255.9,264.1 L257.2,261.9 L258.5,260.8 L259.8,258.7 L261.7,259.3 L262.4,257.2 L263.0,254.2 L263.7,251.9 L264.5,249.8 L265.2,247.9 L265.5,245.2 L265.9,242.5 L266.3,240.2 L266.7,237.2 L267.1,234.1 L267.5,231.8 L268.2,228.8 L269.4,231.1 L270.5,231.8 L271.6,228.8 L272.2,227.2 L272.8,225.0 L273.9,222.7 L275.5,224.2 L276.6,227.3 L277.2,225.7 L277.8,223.5 L278.9,220.4 L280.4,217.3 L282.0,215.1 L283.1,218.1 L284.2,220.4 L284.8,218.5 L285.4,215.8 L285.6,212.9 L285.8,211.6 L286.0,208.7 L287.9,207.4 L289.8,204.9 L291.7,206.2 L292.6,203.9 L293.6,202.4 L294.6,200.3 L295.5,198.5 L297.5,197.3 L298.4,195.5 L299.4,193.4 L300.6,190.3 L301.6,188.5 L302.5,185.8 L304.4,187.1 L305.4,188.8 L306.4,190.9 L306.8,193.5 L307.2,195.2 L307.6,197.3 L308.0,199.2 L308.5,201.3 L308.9,203.6 L310.2,202.4 L310.6,199.9 L311.0,197.7 L311.4,196.0 L313.4,193.4 L315.3,196.0 L315.9,197.5 L316.5,199.8 L317.1,201.9 L317.8,203.6 L319.7,206.2 L321.6,204.9 L323.5,206.2 L324.1,208.6 L324.8,210.0 L326.7,212.5 L327.6,214.0 L328.6,216.3 L330.5,218.9 L331.4,220.3 L332.4,222.7 L334.3,221.4 L336.0,219.5 L336.7,222.0 L337.4,223.5 L338.1,225.4 L338.8,227.2 L339.5,229.5 L340.2,231.7 L341.0,234.1 L341.7,235.9 L342.1,238.0 L342.4,240.1 L342.8,241.8 L343.1,244.4 L345.3,243.3 L346.2,245.5 L347.1,246.3 L348.0,248.6 L348.7,250.4 L349.4,252.5 L350.1,253.9 L351.7,255.6 L353.3,258.1 L354.4,260.5 L355.4,262.4 L356.1,265.0 L356.8,266.7 L357.5,268.7 L358.6,271.2 L359.6,272.5 L360.7,275.1 L361.8,277.1 L362.8,278.9 L363.9,281.4 L365.5,283.4 L367.1,284.6 L368.7,286.0 L370.3,287.8 L371.9,289.8 L373.4,292.0 L375.5,293.6 L377.7,294.2 L379.1,296.0 L380.5,297.5 L381.9,298.4 L383.5,300.4 L385.1,302.6 L387.2,303.6 L389.3,304.7 L391.5,306.1 L393.6,306.9 L395.7,306.9 L397.8,306.9 L399.4,307.7 L401.0,309.0 L402.6,311.0 L404.2,313.2 L405.8,314.4 L407.3,316.4 L408.4,317.9 L409.4,319.6 L411.7,322.2 L413.5,324.2 L415.2,325.6 L417.0,326.5 L418.8,327.7 L420.5,328.6 L422.3,329.7 L424.1,330.9 L425.8,332.0 L427.6,333.9 L429.4,334.7 L431.1,336.3 L432.9,337.1 L435.0,338.6 L437.2,339.2 L438.2,340.8 L439.3,343.0 L440.3,344.5 L442.5,346.4 L444.6,347.7 L447.7,348.9 L449.8,350.7 L451.9,352.1 L453.5,351.2 L455.1,350.0 L457.2,351.3 L459.4,352.1 L461.5,353.5 L463.6,355.3 L465.0,356.9 L466.4,357.9 L467.8,359.5 L469.4,361.6 L471.0,363.8 L473.6,364.6 L476.3,364.8 L478.5,366.1 L480.6,367.0 L483.2,367.3 L485.8,368.0 L488.5,368.7 L491.1,368.4 L493.2,369.4 L495.4,370.1 L497.5,371.5 L499.6,372.7 L501.2,370.9 L502.8,370.1 L504.4,368.1 L506.0,365.9 L507.1,363.5 L508.1,361.8 L509.2,359.5 L509.7,357.4 L510.2,355.6 L510.8,353.4 L511.3,351.1 L511.6,349.3 L512.0,346.7 L512.3,344.9 L512.7,342.9 L513.0,340.5 L513.4,338.7 L513.7,336.1 L514.0,334.5 L514.4,332.0 L514.7,330.5 L515.0,328.4 L515.3,326.8 L515.6,324.9 L516.0,322.5 L516.3,320.6 L516.6,318.2 L516.9,316.7 L517.7,315.0 L518.5,313.0 L519.3,310.4 L520.1,308.3 L520.4,306.4 L520.7,304.3 L521.0,302.2 L521.3,299.4 L521.6,298.0 L521.9,295.6 L522.2,293.4 L522.8,291.5 L523.5,289.1 L524.1,287.2 L524.8,285.2 L525.4,282.8 L526.3,280.9 L527.1,278.8 L528.0,276.0 L528.8,274.0 L529.7,272.3 L530.8,270.4 L531.8,268.7 L532.9,266.4 L533.9,264.8 L534.4,263.1 L535.0,261.1 L535.5,258.5 L536.0,257.0 L536.6,254.8 L537.1,253.2 L537.9,250.6 L538.7,248.5 L539.5,246.6 L540.3,244.7 L540.8,242.2 L541.3,240.0 L541.9,237.7 L542.4,236.0 L542.9,234.0 L543.5,231.9 L544.0,230.1 L544.5,228.0 L544.9,226.1 L545.3,223.7 L545.7,222.4 L546.1,219.5 L546.5,218.0 L547.0,215.8 L547.4,213.6 L547.8,211.7 L548.3,209.7 L549.2,207.4 L550.2,205.9 L552.1,204.6 L553.0,203.1 L554.0,200.8 L554.1,198.4 L554.3,195.8 L554.5,194.2 L554.6,191.9 L556.5,190.6 L557.8,191.9 L558.4,188.9 L559.0,186.8 L559.6,184.9 L560.3,183.0 L561.2,180.3 L562.2,177.9 L562.5,176.0 L562.7,174.4 L563.0,172.2 L563.2,169.7 L563.5,167.8 L564.8,170.3 L565.0,172.5 L565.2,174.3 L565.4,175.9 L565.6,177.5 L565.8,179.9 L566.0,181.7 L566.3,179.8 L566.5,178.2 L566.8,176.2 L567.0,173.7 L567.3,171.6 L567.9,169.3 L568.4,167.8 L569.0,165.2 L569.2,166.7 L569.4,168.8 L569.6,171.3 L569.9,173.3 L570.1,174.8 L570.3,177.3 L570.5,179.2 L570.9,177.5 L571.3,174.9 L571.7,172.9 L571.9,170.7 L572.1,168.4 L572.4,166.3 L572.6,165.0 L572.8,162.2 L573.0,160.2 L573.1,162.7 L573.2,164.6 L573.4,166.2 L573.5,167.8 L573.6,170.5 L573.7,171.9 L573.8,173.8 L573.9,175.6 L574.1,178.3 L574.2,179.7 L574.3,181.7 L574.5,179.3 L574.7,177.4 L575.0,174.9 L575.2,173.4 L575.4,171.1 L575.6,169.0 L576.2,166.9 L576.8,165.2 L577.1,163.6 L577.5,161.8 L577.8,159.0 L578.1,157.6 L578.8,155.1 L579.4,152.5 L580.0,150.4 L580.6,149.2 L581.2,146.9 L583.1,149.4 L585.0,148.1 L587.0,146.2 L588.9,149.4 L590.8,151.9 L592.7,150.7 L594.6,151.9 L595.2,154.2 L595.8,155.8 L596.8,158.0 L597.8,160.8 L599.0,162.1 L600.0,159.3 L600.9,157.0 L602.8,154.5 L605.3,155.3 L606.0,157.1 L606.8,160.1 L607.5,161.7 L607.9,163.6 L608.2,166.1 L608.5,168.0 L608.9,170.3 L609.2,172.4 L609.6,174.4 L610.3,176.5 L611.0,177.7 L611.7,180.0 L612.4,182.4 L613.1,184.0 L613.8,186.4 L614.3,188.5 L614.8,190.4 L615.4,192.5 L615.9,194.8 L616.6,197.0 L617.3,199.0 L618.0,201.2 L618.7,203.1 L619.4,205.7 L620.1,207.5 L620.6,209.5 L621.2,210.7 L621.7,212.9 L622.2,215.0 L622.9,217.1 L623.7,219.7 L624.4,221.3 L625.1,223.9 L625.8,225.6 L626.5,227.7 L627.3,229.0 L628.1,231.7 L628.9,233.2 L629.7,235.1 L630.5,237.0 L631.2,239.0 L632.0,240.8 L632.8,242.5 L633.6,244.3 L634.4,246.7 L635.2,247.9 L636.0,249.9 L637.3,251.8 L638.6,254.0 L639.7,256.1 L640.7,257.1 L641.8,259.2 L642.9,260.7 L643.9,263.1 L645.0,264.5 L647.1,265.1 L649.2,266.7 L650.6,268.5 L652.0,269.7 L653.4,270.9 L654.8,272.6 L656.3,274.2 L657.7,276.2 L659.1,278.3 L660.5,280.2 L661.9,281.5 L663.3,282.9 L664.7,285.0 L666.1,286.8 L667.6,288.9 L667.8,286.9 L668.0,284.9 L668.2,282.7 L668.3,280.5 L668.5,278.9 L668.7,277.2 L668.9,274.8 L669.1,276.3 L669.3,278.5 L669.5,281.2 L669.6,283.1 L669.8,285.0 L670.0,286.8 L670.1,288.4 L670.2,291.3 L670.3,293.7 L670.4,295.8 L670.5,297.6 L670.6,299.0 L670.7,302.0 L670.8,303.7 L671.0,305.5 L671.2,308.1 L671.3,310.5 L671.5,312.4 L671.7,313.9 L671.9,316.4 L672.5,318.3 L673.0,321.1 L673.6,322.8 L675.0,323.8 L676.4,325.7 L677.8,327.0 L679.6,328.7 L681.3,330.2 L683.1,332.3 L684.9,333.5 L686.6,333.9 L688.4,335.5 L690.2,336.5 L691.9,338.2 L693.7,339.7 L695.5,340.0 L697.2,340.7 L699.0,341.9 L700.8,342.7 L702.5,343.6 L704.3,344.0 L706.4,345.1 L708.6,345.0 L710.7,346.1 L713.4,346.6 L716.0,347.2 L717.1,345.2 L718.1,343.8 L719.2,341.9 L721.3,341.3 L723.4,340.8 L724.8,339.5 L726.3,337.2 L727.7,335.6 L729.2,333.0 L730.8,331.3 L733.0,331.5 L735.1,331.3 L736.7,332.5 L738.3,334.5 L740.4,335.7 L742.5,336.6 L745.1,337.2 L747.8,337.7 L749.9,338.2 L752.1,337.8 L754.2,337.7 L756.3,337.5 L758.4,336.7 L760.5,336.6 L763.1,336.2 L765.8,335.6 L767.4,334.2 L769.0,333.4 L769.8,331.6 L770.6,329.2 L771.4,326.7 L772.2,325.0 L772.7,322.8 L773.2,321.1 L773.8,319.6 L774.3,317.5 L774.7,315.0 L775.1,313.5 L775.6,311.4 L776.0,308.6 L776.4,307.0 L776.6,305.1 L776.8,302.3 L777.1,300.2 L777.3,298.6 L777.5,296.4 L777.9,293.8 L778.4,292.3 L778.8,289.6 L779.0,287.6 L779.1,285.5 L779.3,284.1 L779.4,281.3 L779.6,280.1 L779.8,277.4 L779.9,275.5 L780.1,274.5 L780.3,272.2 L780.4,269.8 L780.6,267.7 L780.7,266.7 L780.9,264.2 L781.1,262.5 L781.3,260.7 L781.5,258.0 L781.7,256.6 L781.9,254.4 L782.0,252.3 L782.2,250.5 L782.4,248.9 L782.6,246.7 L782.8,244.8 L783.0,243.0 L783.3,240.5 L783.6,239.1 L783.9,236.8 L784.2,234.8 L784.5,232.3 L784.8,230.6 L785.1,228.1 L785.5,226.0 L785.8,224.0 L786.2,221.8 L786.5,219.9 L786.9,217.4 L787.2,215.4 L787.6,212.8 L787.9,210.7 L788.3,208.7 L788.7,206.4 L789.0,205.2 L789.4,202.7 L789.8,200.7 L790.1,198.9 L790.5,196.1 L790.9,194.6 L791.3,192.7 L791.7,191.3 L792.1,189.1 L792.5,187.1 L792.9,185.2 L793.3,183.0 L793.7,181.2 L794.1,179.7 L794.5,177.2 L794.8,175.3 L795.2,173.2 L795.5,171.7 L795.9,168.7 L796.2,167.0 L796.7,164.6 L797.2,162.6 L797.8,160.3 L798.3,158.6 L798.6,156.2 L799.0,154.0 L799.3,152.2 L799.7,149.6 L800.0,148.4 L800.4,145.8 L800.6,143.6 L800.7,142.1 L800.9,139.7 L801.0,137.6 L801.2,135.3 L801.4,133.7 L801.5,130.7 L801.7,129.0 L801.8,127.1 L801.9,124.5 L802.0,122.8 L802.2,120.7 L802.3,118.0 L802.4,115.9 L802.5,114.1 L802.7,111.3 L802.9,109.3 L803.1,106.8 L803.3,105.0 L803.4,103.0 L803.4,101.7 L803.5,99.1 L803.6,97.1 L803.6,95.4 L803.7,93.3 L803.7,91.8 L803.8,89.9 L803.9,87.4 L803.9,85.5 L804.0,83.9 L804.0,82.1 L804.1,80.4 L804.1,78.1 L804.2,75.9 L804.2,74.5 L804.2,71.5 L804.3,69.6 L804.3,68.4 L804.4,66.0 L804.4,63.6 L804.5,62.2 L804.5,60.2 L804.6,58.7 L804.7,56.1 L804.7,53.9 L804.8,51.5 L804.9,49.5 L805.0,48.3 L805.0,45.8 L805.1,44.2 L805.2,41.7 L805.4,39.1 L805.6,37.2 L805.9,34.9 L806.1,33.1 L806.3,30.6 L806.5,29.0 L806.8,30.8 L807.0,33.1 L807.2,35.1 L807.5,37.0 L807.8,39.1 L808.0,41.7 L808.1,44.2 L808.1,45.3 L808.2,47.7 L808.2,49.6 L808.3,51.7 L808.3,53.2 L808.4,55.4 L808.4,57.2 L808.5,59.7 L808.5,62.1 L808.6,63.6 L808.7,65.8 L808.9,68.2 L809.0,69.6 L809.1,71.5 L809.2,74.2 L809.4,76.3 L809.5,78.5 L809.6,80.5 L809.9,82.3 L810.2,84.6 L810.5,86.7 L810.7,88.9 L811.0,90.2 L811.3,92.4 L811.9,94.3 L812.4,96.7 L813.0,98.3 L814.7,97.5 L815.5,94.6 L816.4,92.4 L817.2,89.4 L818.1,87.3 L818.9,84.5 L819.7,82.2 L820.5,79.6 L821.4,78.0 L823.1,75.4 L824.8,73.7 L825.4,71.7 L825.9,69.5 L826.5,66.9 L828.2,64.4 L829.9,65.3 L830.8,63.4 L831.6,61.5 L832.5,60.2 L834.4,60.8 L836.6,59.7 L838.7,61.9 L840.8,62.9 L841.5,60.7 L842.2,59.1 L842.9,57.6 L845.0,57.6 L847.1,55.5 L848.7,53.4 L850.3,52.3 L851.3,54.4 L852.4,56.6 L853.5,58.8 L854.6,60.8 L856.7,60.8 L858.8,59.7 L859.3,61.9 L859.8,64.2 L860.3,67.1 L860.6,69.4 L860.9,70.9 L861.2,73.1 L861.5,75.6 L862.2,77.5 L863.0,79.7 L863.7,82.0" stroke="#7e0021" stroke-width="2.7" fill="none" stroke-linejoin="round" stroke-linecap="round"/>
<path d="M927.6,191.2H951.5" stroke="#004586" stroke-width="1.7"/>
<text class="lg" x="954.6" y="195.0" textLength="34.9" lengthAdjust="spacingAndGlyphs">Nursery</text>
<path d="M927.6,208.2H951.5" stroke="#ff420e" stroke-width="1.7"/>
<text class="lg" x="954.6" y="211.6" textLength="64.8" lengthAdjust="spacingAndGlyphs">Backyard SW</text>
<path d="M927.6,224.7H951.5" stroke="#ffd320" stroke-width="1.7"/>
<text class="lg" x="954.6" y="228.6" textLength="60.8" lengthAdjust="spacingAndGlyphs">Backyard SE</text>
<path d="M927.6,241.2H951.5" stroke="#579d1c" stroke-width="1.7"/>
<text class="lg" x="954.6" y="244.9" textLength="40.7" lengthAdjust="spacingAndGlyphs">Front NE</text>
<path d="M927.6,257.5H951.5" stroke="#7e0021" stroke-width="1.7"/>
<text class="lg" x="954.6" y="261.6" textLength="44.4" lengthAdjust="spacingAndGlyphs">Front NW</text>
<text class="an" x="143.3" y="88.3" xml:space="preserve">No significant</text>
<text class="an" x="143.3" y="102.4" xml:space="preserve">frost on Friday</text>
<text class="an" x="143.3" y="116.7" xml:space="preserve">night 1/28/22</text>
<text class="an" x="349.8" y="75.1" xml:space="preserve">Medium frost Saturday night</text>
<text class="an" x="349.8" y="89.2" xml:space="preserve">1/29/22:</text>
<text class="an" x="349.8" y="103.4" xml:space="preserve">Backyard lows 24.4F, 25.5F</text>
<text class="an" x="349.8" y="117.7" xml:space="preserve">Nursery low 27.7F</text>
<text class="an" x="349.8" y="131.8" xml:space="preserve">Front yard 27.5F</text>
<text class="an" x="622.8" y="66.5" xml:space="preserve">Med/heavy frost</text>
<text class="an" x="622.8" y="80.8" xml:space="preserve">Sunday night 1/30/22:</text>
<text class="an" x="622.8" y="95.1" xml:space="preserve">Backyard lows 31.6F</text>
<text class="an" x="622.8" y="109.4" xml:space="preserve">Nursery low 35.2F</text>
<text class="an" x="622.8" y="123.7" xml:space="preserve">Front yard low 34.7F</text>
<text class="an" x="882.6" y="345.2" xml:space="preserve">The front NW sensor</text>
<text class="an" x="882.6" y="359.5" xml:space="preserve">was installed</text>
<text class="an" x="882.6" y="373.8" xml:space="preserve">touching a 70' oak</text>
<text class="an" x="882.6" y="388.1" xml:space="preserve">tree.  At 11pm here I</text>
<text class="an" x="882.6" y="402.4" xml:space="preserve">moved it to a hook</text>
<text class="an" x="882.6" y="416.7" xml:space="preserve">12" from the tree.</text>
<path d="M877,348.2L673.8,299.9M691.3,296.1L673.8,299.9L689.4,311.3" stroke="#7e0021" stroke-width="1.6" fill="none" stroke-linecap="round" stroke-linejoin="round"/>
</svg></body></html>
